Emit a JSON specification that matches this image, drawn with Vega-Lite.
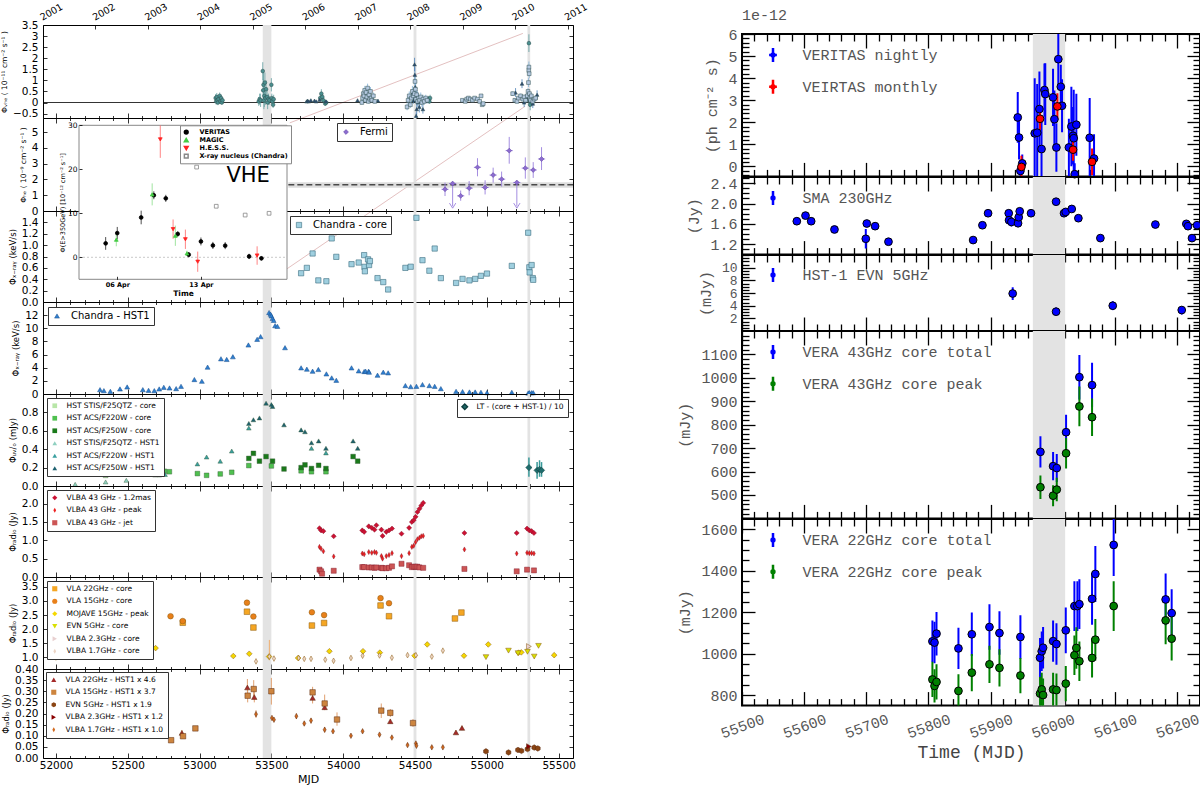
{
"$schema":"https://vega.github.io/schema/vega-lite/v6.json",
"background":"white",
"padding":{"left":0,"top":0,"right":0,"bottom":0},
"config":{
 "view":{"stroke":"black","strokeWidth":1},
 "font":"DejaVu Sans",
 "point":{"opacity":1},
 "axis":{"grid":false,"domain":false,"tickColor":"black","tickWidth":0.8,"labelColor":"black","titleColor":"black","labelFont":"DejaVu Sans","titleFont":"DejaVu Sans","titleFontWeight":"normal","labelOverlap":false,"labelFlush":false},
 "legend":{"labelFont":"DejaVu Sans","labelColor":"black","labelLimit":400}
},
"datasets":{
 "bandsL":[{"a":53440,"b":53500},{"a":54490,"b":54510},{"a":55283,"b":55302}],
 "bandsR":[{"a":55968,"b":56020}],
 "zl":[{"l":1,"t":53628,"v":-0.92},{"l":1,"t":55251,"v":3.12},{"l":2,"t":53609,"v":-7.51},{"l":2,"t":55267,"v":-0.17}],
 "vhe":[
  {"s":"H.E.S.S.","t":53112,"v":0.2,"lo":0.02,"hi":0.38},{"s":"H.E.S.S.","t":53116,"v":0.05,"lo":-0.1,"hi":0.2},{"s":"H.E.S.S.","t":53120,"v":0.25,"lo":0.07,"hi":0.43},{"s":"H.E.S.S.","t":53124,"v":0.1,"lo":-0.05,"hi":0.25},{"s":"H.E.S.S.","t":53128,"v":0.0,"lo":-0.12,"hi":0.12},{"s":"H.E.S.S.","t":53132,"v":0.15,"lo":0.0,"hi":0.3},{"s":"H.E.S.S.","t":53140,"v":0.3,"lo":0.15,"hi":0.45},{"s":"H.E.S.S.","t":53145,"v":0.05,"lo":-0.07,"hi":0.17},{"s":"H.E.S.S.","t":53150,"v":0.2,"lo":0.05,"hi":0.35},{"s":"H.E.S.S.","t":53155,"v":0.0,"lo":-0.1,"hi":0.1},{"s":"H.E.S.S.","t":53160,"v":0.1,"lo":-0.05,"hi":0.25},
  {"s":"H.E.S.S.","t":53412,"v":0.05,"lo":-0.15,"hi":0.25},{"s":"H.E.S.S.","t":53418,"v":0.15,"lo":-0.1,"hi":0.4},{"s":"H.E.S.S.","t":53425,"v":0.1,"lo":-0.2,"hi":0.4},{"s":"H.E.S.S.","t":53440,"v":1.42,"lo":1.02,"hi":1.82},{"s":"H.E.S.S.","t":53443,"v":0.55,"lo":0.05,"hi":1.05},{"s":"H.E.S.S.","t":53445,"v":0.8,"lo":0.2,"hi":1.4},{"s":"H.E.S.S.","t":53448,"v":0.1,"lo":-0.3,"hi":0.5},{"s":"H.E.S.S.","t":53451,"v":0.3,"lo":-0.2,"hi":0.8},{"s":"H.E.S.S.","t":53455,"v":0.9,"lo":0.45,"hi":1.35},{"s":"H.E.S.S.","t":53459,"v":0.2,"lo":-0.1,"hi":0.5},{"s":"H.E.S.S.","t":53463,"v":0.6,"lo":0.2,"hi":1.0},{"s":"H.E.S.S.","t":53470,"v":0.25,"lo":-0.05,"hi":0.55},{"s":"H.E.S.S.","t":53474,"v":0.0,"lo":-0.3,"hi":0.3},{"s":"H.E.S.S.","t":53480,"v":0.15,"lo":-0.1,"hi":0.4},{"s":"H.E.S.S.","t":53486,"v":0.1,"lo":-0.1,"hi":0.3},{"s":"H.E.S.S.","t":53500,"v":0.8,"lo":0.5,"hi":1.1},{"s":"H.E.S.S.","t":53503,"v":0.2,"lo":0.0,"hi":0.4},{"s":"H.E.S.S.","t":53507,"v":0.05,"lo":-0.1,"hi":0.2},{"s":"H.E.S.S.","t":53512,"v":-0.1,"lo":-0.25,"hi":0.05},{"s":"H.E.S.S.","t":53516,"v":0.15,"lo":-0.05,"hi":0.35},
  {"s":"H.E.S.S.","t":53840,"v":0.2,"lo":0.05,"hi":0.35},{"s":"H.E.S.S.","t":53848,"v":0.4,"lo":0.2,"hi":0.6},{"s":"H.E.S.S.","t":53855,"v":0.25,"lo":0.1,"hi":0.4},{"s":"H.E.S.S.","t":53862,"v":0.1,"lo":0.0,"hi":0.2},{"s":"H.E.S.S.","t":53875,"v":-0.05,"lo":-0.15,"hi":0.05},{"s":"H.E.S.S.","t":53882,"v":0.0,"lo":-0.1,"hi":0.1},
  {"s":"H.E.S.S.","t":54595,"v":0.15,"lo":0.0,"hi":0.3},{"s":"H.E.S.S.","t":54600,"v":0.05,"lo":-0.05,"hi":0.15},{"s":"H.E.S.S.","t":54605,"v":0.2,"lo":0.05,"hi":0.35},
  {"s":"H.E.S.S.","t":55293,"v":2.68,"lo":2.28,"hi":3.08},{"s":"H.E.S.S.","t":55294,"v":0.2,"lo":-0.1,"hi":0.5},{"s":"H.E.S.S.","t":55298,"v":0.1,"lo":-0.2,"hi":0.4},{"s":"H.E.S.S.","t":55302,"v":-0.1,"lo":-0.35,"hi":0.15},
  {"s":"MAGIC","t":53745,"v":0.05,"lo":0.01,"hi":0.09},{"s":"MAGIC","t":53752,"v":0.08,"lo":0.04,"hi":0.12},{"s":"MAGIC","t":53760,"v":0.05,"lo":0.01,"hi":0.09},{"s":"MAGIC","t":53775,"v":0.1,"lo":0.05,"hi":0.15},{"s":"MAGIC","t":53800,"v":0.08,"lo":0.03,"hi":0.13},{"s":"MAGIC","t":53812,"v":0.05,"lo":0.0,"hi":0.1},{"s":"MAGIC","t":53835,"v":0.12,"lo":0.06,"hi":0.18},{"s":"MAGIC","t":53880,"v":0.05,"lo":0.0,"hi":0.1},
  {"s":"MAGIC","t":54100,"v":0.1,"lo":0.05,"hi":0.15},{"s":"MAGIC","t":54242,"v":0.08,"lo":0.03,"hi":0.13},
  {"s":"MAGIC","t":54480,"v":0.4,"lo":0.2,"hi":0.6},{"s":"MAGIC","t":54490,"v":0.1,"lo":-0.05,"hi":0.25},{"s":"MAGIC","t":54497,"v":1.72,"lo":1.42,"hi":2.02},{"s":"MAGIC","t":54499,"v":1.25,"lo":0.9,"hi":1.6},{"s":"MAGIC","t":54502,"v":0.7,"lo":0.4,"hi":1.0},{"s":"MAGIC","t":54505,"v":0.2,"lo":0.0,"hi":0.4},{"s":"MAGIC","t":54508,"v":-0.6,"lo":-0.75,"hi":-0.45},{"s":"MAGIC","t":54512,"v":-0.3,"lo":-0.55,"hi":-0.05},{"s":"MAGIC","t":54516,"v":0.3,"lo":0.1,"hi":0.5},{"s":"MAGIC","t":54520,"v":0.0,"lo":-0.2,"hi":0.2},{"s":"MAGIC","t":54530,"v":-0.2,"lo":-0.45,"hi":0.05},{"s":"MAGIC","t":54545,"v":0.1,"lo":-0.1,"hi":0.3},{"s":"MAGIC","t":54555,"v":-0.3,"lo":-0.5,"hi":-0.1},
  {"s":"MAGIC","t":55200,"v":0.45,"lo":0.25,"hi":0.65},{"s":"MAGIC","t":55245,"v":0.85,"lo":0.65,"hi":1.05},{"s":"MAGIC","t":55260,"v":0.0,"lo":-0.2,"hi":0.2},{"s":"MAGIC","t":55280,"v":0.25,"lo":0.1,"hi":0.4},{"s":"MAGIC","t":55296,"v":0.3,"lo":0.1,"hi":0.5},{"s":"MAGIC","t":55300,"v":0.1,"lo":-0.05,"hi":0.25},{"s":"MAGIC","t":55320,"v":-0.05,"lo":-0.25,"hi":0.15},{"s":"MAGIC","t":55350,"v":0.35,"lo":0.15,"hi":0.55},
  {"s":"VERITAS","t":54130,"v":0.0,"lo":-0.1,"hi":0.1},{"s":"VERITAS","t":54135,"v":0.2,"lo":0.05,"hi":0.35},{"s":"VERITAS","t":54140,"v":0.4,"lo":0.2,"hi":0.6},{"s":"VERITAS","t":54145,"v":0.3,"lo":0.15,"hi":0.45},{"s":"VERITAS","t":54150,"v":0.55,"lo":0.35,"hi":0.75},{"s":"VERITAS","t":54155,"v":0.1,"lo":0.0,"hi":0.2},{"s":"VERITAS","t":54160,"v":0.45,"lo":0.25,"hi":0.65},{"s":"VERITAS","t":54165,"v":0.25,"lo":0.1,"hi":0.4},{"s":"VERITAS","t":54170,"v":0.65,"lo":0.45,"hi":0.85},{"s":"VERITAS","t":54175,"v":0.05,"lo":-0.05,"hi":0.15},{"s":"VERITAS","t":54180,"v":0.35,"lo":0.2,"hi":0.5},{"s":"VERITAS","t":54185,"v":0.15,"lo":0.05,"hi":0.25},{"s":"VERITAS","t":54190,"v":0.5,"lo":0.3,"hi":0.7},{"s":"VERITAS","t":54195,"v":0.2,"lo":0.1,"hi":0.3},{"s":"VERITAS","t":54200,"v":0.1,"lo":0.0,"hi":0.2},{"s":"VERITAS","t":54210,"v":0.3,"lo":0.15,"hi":0.45},{"s":"VERITAS","t":54220,"v":0.05,"lo":-0.05,"hi":0.15},
  {"s":"VERITAS","t":54445,"v":-0.2,"lo":-0.35,"hi":-0.05},{"s":"VERITAS","t":54452,"v":0.1,"lo":-0.1,"hi":0.3},{"s":"VERITAS","t":54460,"v":0.3,"lo":0.1,"hi":0.5},{"s":"VERITAS","t":54468,"v":-0.1,"lo":-0.25,"hi":0.05},{"s":"VERITAS","t":54475,"v":0.2,"lo":0.0,"hi":0.4},{"s":"VERITAS","t":54482,"v":0.5,"lo":0.25,"hi":0.75},{"s":"VERITAS","t":54488,"v":0.3,"lo":0.1,"hi":0.5},{"s":"VERITAS","t":54495,"v":0.4,"lo":0.15,"hi":0.65},{"s":"VERITAS","t":54500,"v":0.95,"lo":0.65,"hi":1.25},{"s":"VERITAS","t":54503,"v":0.6,"lo":0.3,"hi":0.9},{"s":"VERITAS","t":54506,"v":0.15,"lo":-0.05,"hi":0.35},{"s":"VERITAS","t":54512,"v":0.35,"lo":0.15,"hi":0.55},{"s":"VERITAS","t":54518,"v":0.05,"lo":-0.15,"hi":0.25},{"s":"VERITAS","t":54525,"v":0.2,"lo":0.0,"hi":0.4},{"s":"VERITAS","t":54532,"v":0.1,"lo":-0.1,"hi":0.3},{"s":"VERITAS","t":54540,"v":0.25,"lo":0.05,"hi":0.45},{"s":"VERITAS","t":54548,"v":0.0,"lo":-0.2,"hi":0.2},{"s":"VERITAS","t":54556,"v":0.15,"lo":-0.05,"hi":0.35},{"s":"VERITAS","t":54565,"v":0.05,"lo":-0.1,"hi":0.2},{"s":"VERITAS","t":54575,"v":0.2,"lo":0.05,"hi":0.35},{"s":"VERITAS","t":54585,"v":0.1,"lo":-0.05,"hi":0.25},
  {"s":"VERITAS","t":54830,"v":0.1,"lo":0.05,"hi":0.15},{"s":"VERITAS","t":54850,"v":0.05,"lo":0.0,"hi":0.1},{"s":"VERITAS","t":54860,"v":0.15,"lo":0.1,"hi":0.2},{"s":"VERITAS","t":54872,"v":0.2,"lo":0.14,"hi":0.26},{"s":"VERITAS","t":54885,"v":0.15,"lo":0.1,"hi":0.2},{"s":"VERITAS","t":54900,"v":0.1,"lo":0.05,"hi":0.15},{"s":"VERITAS","t":54915,"v":0.2,"lo":0.14,"hi":0.26},{"s":"VERITAS","t":54935,"v":0.15,"lo":0.1,"hi":0.2},{"s":"VERITAS","t":54950,"v":0.05,"lo":0.0,"hi":0.1},{"s":"VERITAS","t":54960,"v":0.3,"lo":0.22,"hi":0.38},{"s":"VERITAS","t":54968,"v":-0.1,"lo":-0.16,"hi":-0.04},{"s":"VERITAS","t":54975,"v":-0.05,"lo":-0.1,"hi":0.0},
  {"s":"VERITAS","t":55180,"v":0.4,"lo":0.3,"hi":0.5},{"s":"VERITAS","t":55195,"v":0.1,"lo":0.0,"hi":0.2},{"s":"VERITAS","t":55210,"v":0.05,"lo":-0.05,"hi":0.15},{"s":"VERITAS","t":55220,"v":0.2,"lo":0.1,"hi":0.3},{"s":"VERITAS","t":55235,"v":0.3,"lo":0.2,"hi":0.4},{"s":"VERITAS","t":55250,"v":0.15,"lo":0.05,"hi":0.25},{"s":"VERITAS","t":55260,"v":0.25,"lo":0.15,"hi":0.35},{"s":"VERITAS","t":55270,"v":0.1,"lo":0.0,"hi":0.2},{"s":"VERITAS","t":55282,"v":0.3,"lo":0.2,"hi":0.4},{"s":"VERITAS","t":55287,"v":0.5,"lo":0.35,"hi":0.65},{"s":"VERITAS","t":55290,"v":0.9,"lo":0.7,"hi":1.1},{"s":"VERITAS","t":55292,"v":1.45,"lo":1.2,"hi":1.7},{"s":"VERITAS","t":55293,"v":1.6,"lo":1.35,"hi":1.85},{"s":"VERITAS","t":55295,"v":1.3,"lo":1.1,"hi":1.5},{"s":"VERITAS","t":55297,"v":0.4,"lo":0.25,"hi":0.55},{"s":"VERITAS","t":55300,"v":0.2,"lo":0.1,"hi":0.3},{"s":"VERITAS","t":55305,"v":0.1,"lo":0.0,"hi":0.2},{"s":"VERITAS","t":55310,"v":0.3,"lo":0.2,"hi":0.4},{"s":"VERITAS","t":55320,"v":0.05,"lo":-0.05,"hi":0.15},{"s":"VERITAS","t":55330,"v":0.15,"lo":0.05,"hi":0.25},{"s":"VERITAS","t":55340,"v":0.2,"lo":0.1,"hi":0.3}
 ],
 "fermi":[
  {"s":"Fermi","t":54709,"v":1.38,"lo":0.95,"hi":1.8,"t0":54684,"t1":54734},
  {"s":"Fermi","t":54762,"v":1.74,"lo":0.3,"hi":1.74,"t0":54737,"t1":54787,"ul":true},
  {"s":"Fermi","t":54818,"v":0.96,"lo":0.65,"hi":1.3,"t0":54793,"t1":54843},
  {"s":"Fermi","t":54877,"v":1.45,"lo":1.0,"hi":1.9,"t0":54852,"t1":54902},
  {"s":"Fermi","t":54935,"v":2.77,"lo":2.2,"hi":3.35,"t0":54910,"t1":54960},
  {"s":"Fermi","t":54988,"v":1.49,"lo":1.05,"hi":1.95,"t0":54963,"t1":55013},
  {"s":"Fermi","t":55044,"v":2.28,"lo":1.8,"hi":2.75,"t0":55019,"t1":55069},
  {"s":"Fermi","t":55103,"v":2.02,"lo":1.55,"hi":2.5,"t0":55078,"t1":55128},
  {"s":"Fermi","t":55156,"v":3.83,"lo":3.0,"hi":4.7,"t0":55131,"t1":55181},
  {"s":"Fermi","t":55209,"v":1.81,"lo":0.3,"hi":1.81,"t0":55184,"t1":55234,"ul":true},
  {"s":"Fermi","t":55268,"v":2.72,"lo":2.05,"hi":3.4,"t0":55243,"t1":55293},
  {"s":"Fermi","t":55323,"v":2.6,"lo":2.1,"hi":3.1,"t0":55298,"t1":55348},
  {"s":"Fermi","t":55381,"v":3.3,"lo":2.6,"hi":4.05,"t0":55356,"t1":55406}
 ],
 "favg":[{"a":53618,"b":55600,"lo":1.47,"hi":1.83,"m":1.66}],
 "ccore":[
  {"s":"Chandra - core","t":53707,"v":0.506},{"s":"Chandra - core","t":53747,"v":0.6},{"s":"Chandra - core","t":53787,"v":0.853},{"s":"Chandra - core","t":53827,"v":0.38},{"s":"Chandra - core","t":53883,"v":0.365},{"s":"Chandra - core","t":53920,"v":1.118},{"s":"Chandra - core","t":53952,"v":0.794},{"s":"Chandra - core","t":54058,"v":0.665},{"s":"Chandra - core","t":54108,"v":0.694},{"s":"Chandra - core","t":54146,"v":0.824},{"s":"Chandra - core","t":54148,"v":0.618},{"s":"Chandra - core","t":54151,"v":0.54},{"s":"Chandra - core","t":54173,"v":0.75},{"s":"Chandra - core","t":54180,"v":0.65},{"s":"Chandra - core","t":54186,"v":0.72},{"s":"Chandra - core","t":54239,"v":0.42},{"s":"Chandra - core","t":54279,"v":0.35},{"s":"Chandra - core","t":54313,"v":0.22},{"s":"Chandra - core","t":54433,"v":0.6},{"s":"Chandra - core","t":54470,"v":0.62},{"s":"Chandra - core","t":54510,"v":1.48},{"s":"Chandra - core","t":54552,"v":0.735},{"s":"Chandra - core","t":54600,"v":0.55},{"s":"Chandra - core","t":54637,"v":0.94},{"s":"Chandra - core","t":54680,"v":0.42},{"s":"Chandra - core","t":54786,"v":0.335},{"s":"Chandra - core","t":54831,"v":0.406},{"s":"Chandra - core","t":54879,"v":0.38},{"s":"Chandra - core","t":54919,"v":0.406},{"s":"Chandra - core","t":54959,"v":0.46},{"s":"Chandra - core","t":55001,"v":0.5},{"s":"Chandra - core","t":55174,"v":0.635},{"s":"Chandra - core","t":55288,"v":1.218},{"s":"Chandra - core","t":55296,"v":0.61},{"s":"Chandra - core","t":55298,"v":0.52},{"s":"Chandra - core","t":55312,"v":0.65},{"s":"Chandra - core","t":55320,"v":0.42},{"s":"Chandra - core","t":55323,"v":0.39}
 ],
 "chst":[
  {"s":"Chandra - HST1","t":52307,"v":0.66},{"s":"Chandra - HST1","t":52334,"v":0.51},{"s":"Chandra - HST1","t":52379,"v":0.41},{"s":"Chandra - HST1","t":52446,"v":0.77},{"s":"Chandra - HST1","t":52496,"v":1.07},{"s":"Chandra - HST1","t":52605,"v":0.66},{"s":"Chandra - HST1","t":52645,"v":0.56},{"s":"Chandra - HST1","t":52685,"v":0.51},{"s":"Chandra - HST1","t":52719,"v":0.77},{"s":"Chandra - HST1","t":52751,"v":1.02},{"s":"Chandra - HST1","t":52791,"v":0.92},{"s":"Chandra - HST1","t":52837,"v":0.82},{"s":"Chandra - HST1","t":52871,"v":1.17},{"s":"Chandra - HST1","t":52964,"v":2.2},{"s":"Chandra - HST1","t":53016,"v":1.94},{"s":"Chandra - HST1","t":53056,"v":4.09},{"s":"Chandra - HST1","t":53149,"v":5.36},{"s":"Chandra - HST1","t":53189,"v":5.26},{"s":"Chandra - HST1","t":53232,"v":5.67},{"s":"Chandra - HST1","t":53340,"v":7.46},{"s":"Chandra - HST1","t":53401,"v":8.32},{"s":"Chandra - HST1","t":53425,"v":8.73},{"s":"Chandra - HST1","t":53484,"v":12.4},{"s":"Chandra - HST1","t":53494,"v":12.15},{"s":"Chandra - HST1","t":53500,"v":11.9},{"s":"Chandra - HST1","t":53508,"v":11.5},{"s":"Chandra - HST1","t":53516,"v":11.2},{"s":"Chandra - HST1","t":53526,"v":10.4},{"s":"Chandra - HST1","t":53542,"v":10.3},{"s":"Chandra - HST1","t":53595,"v":7.05},{"s":"Chandra - HST1","t":53707,"v":3.98},{"s":"Chandra - HST1","t":53747,"v":3.78},{"s":"Chandra - HST1","t":53787,"v":3.47},{"s":"Chandra - HST1","t":53827,"v":3.73},{"s":"Chandra - HST1","t":53883,"v":3.06},{"s":"Chandra - HST1","t":53920,"v":2.45},{"s":"Chandra - HST1","t":53952,"v":2.09},{"s":"Chandra - HST1","t":54058,"v":3.98},{"s":"Chandra - HST1","t":54108,"v":3.52},{"s":"Chandra - HST1","t":54146,"v":3.42},{"s":"Chandra - HST1","t":54156,"v":3.47},{"s":"Chandra - HST1","t":54177,"v":3.47},{"s":"Chandra - HST1","t":54180,"v":3.32},{"s":"Chandra - HST1","t":54239,"v":2.86},{"s":"Chandra - HST1","t":54279,"v":3.32},{"s":"Chandra - HST1","t":54313,"v":3.22},{"s":"Chandra - HST1","t":54433,"v":1.28},{"s":"Chandra - HST1","t":54470,"v":1.12},{"s":"Chandra - HST1","t":54510,"v":1.17},{"s":"Chandra - HST1","t":54552,"v":1.43},{"s":"Chandra - HST1","t":54600,"v":1.28},{"s":"Chandra - HST1","t":54637,"v":1.17},{"s":"Chandra - HST1","t":54680,"v":0.82},{"s":"Chandra - HST1","t":54786,"v":0.41},{"s":"Chandra - HST1","t":54831,"v":0.36},{"s":"Chandra - HST1","t":54879,"v":0.31},{"s":"Chandra - HST1","t":54919,"v":0.31},{"s":"Chandra - HST1","t":54959,"v":0.26},{"s":"Chandra - HST1","t":55001,"v":0.2},{"s":"Chandra - HST1","t":55174,"v":0.26},{"s":"Chandra - HST1","t":55288,"v":0.15},{"s":"Chandra - HST1","t":55296,"v":0.2},{"s":"Chandra - HST1","t":55312,"v":0.2},{"s":"Chandra - HST1","t":55323,"v":0.2}
 ],
 "uvo":[
  {"s":"HST STIS/F25QTZ - core","t":52134,"v":0.171},{"s":"HST STIS/F25QTZ - core","t":52346,"v":0.116},{"s":"HST STIS/F25QTZ - core","t":52490,"v":0.145},
  {"s":"HST STIS/F25QTZ - HST1","t":52134,"v":0.018},{"s":"HST STIS/F25QTZ - HST1","t":52346,"v":0.044},{"s":"HST STIS/F25QTZ - HST1","t":52490,"v":0.062},
  {"s":"HST ACS/F220W - core","t":52631,"v":0.145},{"s":"HST ACS/F220W - core","t":52660,"v":0.15},{"s":"HST ACS/F220W - core","t":52690,"v":0.15},{"s":"HST ACS/F220W - core","t":52720,"v":0.155},{"s":"HST ACS/F220W - core","t":52755,"v":0.16},{"s":"HST ACS/F220W - core","t":52790,"v":0.155},{"s":"HST ACS/F220W - core","t":52985,"v":0.135},{"s":"HST ACS/F220W - core","t":53049,"v":0.116},{"s":"HST ACS/F220W - core","t":53144,"v":0.131},{"s":"HST ACS/F220W - core","t":53224,"v":0.149},{"s":"HST ACS/F220W - core","t":53343,"v":0.222},{"s":"HST ACS/F220W - core","t":53500,"v":0.218},{"s":"HST ACS/F220W - core","t":53707,"v":0.165},{"s":"HST ACS/F220W - core","t":53779,"v":0.155},{"s":"HST ACS/F220W - core","t":53880,"v":0.155},
  {"s":"HST ACS/F250W - core","t":53343,"v":0.3},{"s":"HST ACS/F250W - core","t":53375,"v":0.355},{"s":"HST ACS/F250W - core","t":53417,"v":0.27},{"s":"HST ACS/F250W - core","t":53463,"v":0.32},{"s":"HST ACS/F250W - core","t":53508,"v":0.27},{"s":"HST ACS/F250W - core","t":53588,"v":0.185},{"s":"HST ACS/F250W - core","t":53707,"v":0.2},{"s":"HST ACS/F250W - core","t":53734,"v":0.23},{"s":"HST ACS/F250W - core","t":53779,"v":0.19},{"s":"HST ACS/F250W - core","t":53829,"v":0.225},{"s":"HST ACS/F250W - core","t":53880,"v":0.19},{"s":"HST ACS/F250W - core","t":54069,"v":0.32},{"s":"HST ACS/F250W - core","t":54101,"v":0.27},
  {"s":"HST ACS/F220W - HST1","t":52631,"v":0.14},{"s":"HST ACS/F220W - HST1","t":52690,"v":0.12},{"s":"HST ACS/F220W - HST1","t":52720,"v":0.12},{"s":"HST ACS/F220W - HST1","t":52760,"v":0.125},{"s":"HST ACS/F220W - HST1","t":52985,"v":0.24},{"s":"HST ACS/F220W - HST1","t":53049,"v":0.315},{"s":"HST ACS/F220W - HST1","t":53144,"v":0.27},{"s":"HST ACS/F220W - HST1","t":53224,"v":0.38},{"s":"HST ACS/F220W - HST1","t":53343,"v":0.63},{"s":"HST ACS/F220W - HST1","t":53779,"v":0.41},{"s":"HST ACS/F220W - HST1","t":53880,"v":0.36},
  {"s":"HST ACS/F250W - HST1","t":53343,"v":0.68},{"s":"HST ACS/F250W - HST1","t":53375,"v":0.72},{"s":"HST ACS/F250W - HST1","t":53417,"v":0.74},{"s":"HST ACS/F250W - HST1","t":53463,"v":0.9},{"s":"HST ACS/F250W - HST1","t":53500,"v":0.885},{"s":"HST ACS/F250W - HST1","t":53508,"v":0.865},{"s":"HST ACS/F250W - HST1","t":53588,"v":0.665},{"s":"HST ACS/F250W - HST1","t":53707,"v":0.61},{"s":"HST ACS/F250W - HST1","t":53734,"v":0.59},{"s":"HST ACS/F250W - HST1","t":53779,"v":0.47},{"s":"HST ACS/F250W - HST1","t":53829,"v":0.49},{"s":"HST ACS/F250W - HST1","t":53880,"v":0.41},{"s":"HST ACS/F250W - HST1","t":54069,"v":0.49},{"s":"HST ACS/F250W - HST1","t":54101,"v":0.41}
 ],
 "lt":[
  {"s":"LT - (core + HST-1) / 10","t":55293,"v":0.2,"lo":0.1,"hi":0.31,"t0":55285,"t1":55301},
  {"s":"LT - (core + HST-1) / 10","t":55350,"v":0.17,"lo":0.08,"hi":0.26,"t0":55342,"t1":55358},
  {"s":"LT - (core + HST-1) / 10","t":55367,"v":0.18,"lo":0.1,"hi":0.28,"t0":55359,"t1":55375},
  {"s":"LT - (core + HST-1) / 10","t":55381,"v":0.17,"lo":0.1,"hi":0.26,"t0":55373,"t1":55389}
 ],
 "v43l":[
  {"s":"VLBA 43 GHz - 1.2mas","t":53835,"v":1.33},{"s":"VLBA 43 GHz - 1.2mas","t":53846,"v":1.27},{"s":"VLBA 43 GHz - 1.2mas","t":53862,"v":1.25},{"s":"VLBA 43 GHz - 1.2mas","t":53934,"v":1.11},{"s":"VLBA 43 GHz - 1.2mas","t":54133,"v":1.27},{"s":"VLBA 43 GHz - 1.2mas","t":54146,"v":1.23},{"s":"VLBA 43 GHz - 1.2mas","t":54178,"v":1.38},{"s":"VLBA 43 GHz - 1.2mas","t":54199,"v":1.34},{"s":"VLBA 43 GHz - 1.2mas","t":54218,"v":1.29},{"s":"VLBA 43 GHz - 1.2mas","t":54231,"v":1.41},{"s":"VLBA 43 GHz - 1.2mas","t":54266,"v":1.29},{"s":"VLBA 43 GHz - 1.2mas","t":54274,"v":1.12},{"s":"VLBA 43 GHz - 1.2mas","t":54300,"v":1.23},{"s":"VLBA 43 GHz - 1.2mas","t":54319,"v":1.27},{"s":"VLBA 43 GHz - 1.2mas","t":54340,"v":1.32},{"s":"VLBA 43 GHz - 1.2mas","t":54406,"v":1.18},{"s":"VLBA 43 GHz - 1.2mas","t":54459,"v":1.34},{"s":"VLBA 43 GHz - 1.2mas","t":54478,"v":1.5},{"s":"VLBA 43 GHz - 1.2mas","t":54491,"v":1.55},{"s":"VLBA 43 GHz - 1.2mas","t":54504,"v":1.64},{"s":"VLBA 43 GHz - 1.2mas","t":54517,"v":1.77},{"s":"VLBA 43 GHz - 1.2mas","t":54531,"v":1.86},{"s":"VLBA 43 GHz - 1.2mas","t":54544,"v":1.95},{"s":"VLBA 43 GHz - 1.2mas","t":54557,"v":2.02},{"s":"VLBA 43 GHz - 1.2mas","t":54844,"v":1.2},{"s":"VLBA 43 GHz - 1.2mas","t":55208,"v":1.2},{"s":"VLBA 43 GHz - 1.2mas","t":55280,"v":1.32},{"s":"VLBA 43 GHz - 1.2mas","t":55296,"v":1.27},{"s":"VLBA 43 GHz - 1.2mas","t":55312,"v":1.25},{"s":"VLBA 43 GHz - 1.2mas","t":55328,"v":1.2},
  {"s":"VLBA 43 GHz - peak","t":53835,"v":0.82},{"s":"VLBA 43 GHz - peak","t":53846,"v":0.77},{"s":"VLBA 43 GHz - peak","t":53862,"v":0.7},{"s":"VLBA 43 GHz - peak","t":53934,"v":0.56},{"s":"VLBA 43 GHz - peak","t":54133,"v":0.64},{"s":"VLBA 43 GHz - peak","t":54146,"v":0.62},{"s":"VLBA 43 GHz - peak","t":54178,"v":0.68},{"s":"VLBA 43 GHz - peak","t":54199,"v":0.66},{"s":"VLBA 43 GHz - peak","t":54218,"v":0.68},{"s":"VLBA 43 GHz - peak","t":54231,"v":0.66},{"s":"VLBA 43 GHz - peak","t":54266,"v":0.57},{"s":"VLBA 43 GHz - peak","t":54274,"v":0.5},{"s":"VLBA 43 GHz - peak","t":54300,"v":0.57},{"s":"VLBA 43 GHz - peak","t":54319,"v":0.6},{"s":"VLBA 43 GHz - peak","t":54340,"v":0.65},{"s":"VLBA 43 GHz - peak","t":54406,"v":0.57},{"s":"VLBA 43 GHz - peak","t":54459,"v":0.65},{"s":"VLBA 43 GHz - peak","t":54478,"v":0.82},{"s":"VLBA 43 GHz - peak","t":54491,"v":0.85},{"s":"VLBA 43 GHz - peak","t":54504,"v":0.95},{"s":"VLBA 43 GHz - peak","t":54517,"v":1.03},{"s":"VLBA 43 GHz - peak","t":54531,"v":1.07},{"s":"VLBA 43 GHz - peak","t":54544,"v":1.11},{"s":"VLBA 43 GHz - peak","t":54557,"v":1.12},{"s":"VLBA 43 GHz - peak","t":54844,"v":0.75},{"s":"VLBA 43 GHz - peak","t":55208,"v":0.64},{"s":"VLBA 43 GHz - peak","t":55280,"v":0.66},{"s":"VLBA 43 GHz - peak","t":55296,"v":0.65},{"s":"VLBA 43 GHz - peak","t":55312,"v":0.65},{"s":"VLBA 43 GHz - peak","t":55328,"v":0.64},
  {"s":"VLBA 43 GHz - jet","t":53835,"v":0.2},{"s":"VLBA 43 GHz - jet","t":53846,"v":0.155},{"s":"VLBA 43 GHz - jet","t":53853,"v":0.09},{"s":"VLBA 43 GHz - jet","t":53934,"v":0.17},{"s":"VLBA 43 GHz - jet","t":54133,"v":0.27},{"s":"VLBA 43 GHz - jet","t":54146,"v":0.27},{"s":"VLBA 43 GHz - jet","t":54178,"v":0.26},{"s":"VLBA 43 GHz - jet","t":54199,"v":0.26},{"s":"VLBA 43 GHz - jet","t":54218,"v":0.25},{"s":"VLBA 43 GHz - jet","t":54231,"v":0.26},{"s":"VLBA 43 GHz - jet","t":54266,"v":0.25},{"s":"VLBA 43 GHz - jet","t":54274,"v":0.24},{"s":"VLBA 43 GHz - jet","t":54300,"v":0.24},{"s":"VLBA 43 GHz - jet","t":54319,"v":0.25},{"s":"VLBA 43 GHz - jet","t":54340,"v":0.29},{"s":"VLBA 43 GHz - jet","t":54406,"v":0.36},{"s":"VLBA 43 GHz - jet","t":54459,"v":0.32},{"s":"VLBA 43 GHz - jet","t":54478,"v":0.27},{"s":"VLBA 43 GHz - jet","t":54491,"v":0.28},{"s":"VLBA 43 GHz - jet","t":54504,"v":0.28},{"s":"VLBA 43 GHz - jet","t":54517,"v":0.28},{"s":"VLBA 43 GHz - jet","t":54531,"v":0.26},{"s":"VLBA 43 GHz - jet","t":54557,"v":0.25},{"s":"VLBA 43 GHz - jet","t":54844,"v":0.22},{"s":"VLBA 43 GHz - jet","t":55208,"v":0.155},{"s":"VLBA 43 GHz - jet","t":55280,"v":0.2},{"s":"VLBA 43 GHz - jet","t":55328,"v":0.18}
 ],
 "rc":[
  {"s":"VLA 22GHz - core","t":52883,"v":2.23},{"s":"VLA 22GHz - core","t":53330,"v":2.62},{"s":"VLA 22GHz - core","t":53375,"v":2.06},{"s":"VLA 22GHz - core","t":53782,"v":2.13},{"s":"VLA 22GHz - core","t":53867,"v":2.22},{"s":"VLA 22GHz - core","t":54260,"v":2.84},{"s":"VLA 22GHz - core","t":54319,"v":2.46},{"s":"VLA 22GHz - core","t":54778,"v":2.38},{"s":"VLA 22GHz - core","t":54823,"v":2.59},
  {"s":"VLA 15GHz - core","t":52798,"v":2.46},{"s":"VLA 15GHz - core","t":52883,"v":2.29},{"s":"VLA 15GHz - core","t":53330,"v":2.94},{"s":"VLA 15GHz - core","t":53375,"v":2.45},{"s":"VLA 15GHz - core","t":53782,"v":2.6},{"s":"VLA 15GHz - core","t":53867,"v":2.5},{"s":"VLA 15GHz - core","t":54260,"v":3.1},{"s":"VLA 15GHz - core","t":54319,"v":2.92},
  {"s":"MOJAVE 15GHz - peak","t":52000,"v":1.0},{"s":"MOJAVE 15GHz - peak","t":52287,"v":1.13},{"s":"MOJAVE 15GHz - peak","t":52380,"v":1.13},{"s":"MOJAVE 15GHz - peak","t":52694,"v":1.33},{"s":"MOJAVE 15GHz - peak","t":53235,"v":1.05},{"s":"MOJAVE 15GHz - peak","t":53346,"v":1.13},{"s":"MOJAVE 15GHz - peak","t":53484,"v":1.03},{"s":"MOJAVE 15GHz - peak","t":53686,"v":0.98},{"s":"MOJAVE 15GHz - peak","t":53904,"v":1.22},{"s":"MOJAVE 15GHz - peak","t":54138,"v":1.22},{"s":"MOJAVE 15GHz - peak","t":54255,"v":1.17},{"s":"MOJAVE 15GHz - peak","t":54497,"v":1.06},{"s":"MOJAVE 15GHz - peak","t":54585,"v":1.46},{"s":"MOJAVE 15GHz - peak","t":54841,"v":1.06},{"s":"MOJAVE 15GHz - peak","t":55010,"v":1.46},{"s":"MOJAVE 15GHz - peak","t":55221,"v":1.17},{"s":"MOJAVE 15GHz - peak","t":55240,"v":1.18},{"s":"MOJAVE 15GHz - peak","t":55469,"v":1.08},
  {"s":"EVN 5GHz - core","t":54994,"v":1.01},{"s":"EVN 5GHz - core","t":55151,"v":1.24},{"s":"EVN 5GHz - core","t":55217,"v":1.15},{"s":"EVN 5GHz - core","t":55283,"v":1.2},{"s":"EVN 5GHz - core","t":55330,"v":1.03},{"s":"EVN 5GHz - core","t":55360,"v":1.41},
  {"s":"VLBA 2.3GHz - core","t":55293,"v":1.39},
  {"s":"VLBA 1.7GHz - core","t":53393,"v":0.86},{"s":"VLBA 1.7GHz - core","t":53486,"v":1.03,"lo":0.9,"hi":1.62},{"s":"VLBA 1.7GHz - core","t":53518,"v":0.96},{"s":"VLBA 1.7GHz - core","t":53690,"v":0.98},{"s":"VLBA 1.7GHz - core","t":53729,"v":0.95},{"s":"VLBA 1.7GHz - core","t":53776,"v":0.95},{"s":"VLBA 1.7GHz - core","t":53875,"v":0.92},{"s":"VLBA 1.7GHz - core","t":53933,"v":0.88},{"s":"VLBA 1.7GHz - core","t":54054,"v":0.98},{"s":"VLBA 1.7GHz - core","t":54135,"v":1.06},{"s":"VLBA 1.7GHz - core","t":54253,"v":1.07},{"s":"VLBA 1.7GHz - core","t":54339,"v":0.99},{"s":"VLBA 1.7GHz - core","t":54448,"v":1.08},{"s":"VLBA 1.7GHz - core","t":54506,"v":1.08},{"s":"VLBA 1.7GHz - core","t":54617,"v":1.03},{"s":"VLBA 1.7GHz - core","t":54694,"v":1.24}
 ],
 "rh":[
  {"s":"VLA 22GHz - HST1 x 4.6","t":52877,"v":0.113,"lo":0.1,"hi":0.126},{"s":"VLA 22GHz - HST1 x 4.6","t":53333,"v":0.317,"lo":0.28,"hi":0.355},{"s":"VLA 22GHz - HST1 x 4.6","t":53381,"v":0.274,"lo":0.25,"hi":0.3},{"s":"VLA 22GHz - HST1 x 4.6","t":53787,"v":0.27,"lo":0.245,"hi":0.295},{"s":"VLA 22GHz - HST1 x 4.6","t":53871,"v":0.228,"lo":0.215,"hi":0.24},{"s":"VLA 22GHz - HST1 x 4.6","t":54328,"v":0.165,"lo":0.155,"hi":0.175},{"s":"VLA 22GHz - HST1 x 4.6","t":54785,"v":0.115,"lo":0.105,"hi":0.125},{"s":"VLA 22GHz - HST1 x 4.6","t":54827,"v":0.135,"lo":0.125,"hi":0.145},
  {"s":"VLA 15GHz - HST1 x 3.7","t":52802,"v":0.08},{"s":"VLA 15GHz - HST1 x 3.7","t":52885,"v":0.098},{"s":"VLA 15GHz - HST1 x 3.7","t":52971,"v":0.133,"lo":0.123,"hi":0.143},{"s":"VLA 15GHz - HST1 x 3.7","t":53335,"v":0.28,"lo":0.25,"hi":0.31},{"s":"VLA 15GHz - HST1 x 3.7","t":53377,"v":0.31,"lo":0.27,"hi":0.35},{"s":"VLA 15GHz - HST1 x 3.7","t":53500,"v":0.3,"lo":0.24,"hi":0.36},{"s":"VLA 15GHz - HST1 x 3.7","t":53787,"v":0.295,"lo":0.27,"hi":0.32},{"s":"VLA 15GHz - HST1 x 3.7","t":53871,"v":0.245,"lo":0.22,"hi":0.285},{"s":"VLA 15GHz - HST1 x 3.7","t":53957,"v":0.173,"lo":0.145,"hi":0.205},{"s":"VLA 15GHz - HST1 x 3.7","t":54265,"v":0.213,"lo":0.18,"hi":0.245},{"s":"VLA 15GHz - HST1 x 3.7","t":54328,"v":0.203,"lo":0.185,"hi":0.22},{"s":"VLA 15GHz - HST1 x 3.7","t":54486,"v":0.157,"lo":0.14,"hi":0.175},
  {"s":"EVN 5GHz - HST1 x 1.9","t":54994,"v":0.03},{"s":"EVN 5GHz - HST1 x 1.9","t":55151,"v":0.025},{"s":"EVN 5GHz - HST1 x 1.9","t":55217,"v":0.036},{"s":"EVN 5GHz - HST1 x 1.9","t":55241,"v":0.032},{"s":"EVN 5GHz - HST1 x 1.9","t":55283,"v":0.04},{"s":"EVN 5GHz - HST1 x 1.9","t":55330,"v":0.047},{"s":"EVN 5GHz - HST1 x 1.9","t":55355,"v":0.043},
  {"s":"VLBA 2.3GHz - HST1 x 1.2","t":55293,"v":0.052},
  {"s":"VLBA 1.7GHz - HST1 x 1.0","t":53393,"v":0.197,"lo":0.18,"hi":0.215},{"s":"VLBA 1.7GHz - HST1 x 1.0","t":53504,"v":0.18},{"s":"VLBA 1.7GHz - HST1 x 1.0","t":53518,"v":0.172},{"s":"VLBA 1.7GHz - HST1 x 1.0","t":53674,"v":0.188,"lo":0.175,"hi":0.2},{"s":"VLBA 1.7GHz - HST1 x 1.0","t":53729,"v":0.155,"lo":0.145,"hi":0.165},{"s":"VLBA 1.7GHz - HST1 x 1.0","t":53776,"v":0.168,"lo":0.155,"hi":0.18},{"s":"VLBA 1.7GHz - HST1 x 1.0","t":53871,"v":0.127,"lo":0.115,"hi":0.14},{"s":"VLBA 1.7GHz - HST1 x 1.0","t":53929,"v":0.12},{"s":"VLBA 1.7GHz - HST1 x 1.0","t":54054,"v":0.1},{"s":"VLBA 1.7GHz - HST1 x 1.0","t":54135,"v":0.12},{"s":"VLBA 1.7GHz - HST1 x 1.0","t":54253,"v":0.105},{"s":"VLBA 1.7GHz - HST1 x 1.0","t":54339,"v":0.092},{"s":"VLBA 1.7GHz - HST1 x 1.0","t":54448,"v":0.058},{"s":"VLBA 1.7GHz - HST1 x 1.0","t":54506,"v":0.065},{"s":"VLBA 1.7GHz - HST1 x 1.0","t":54510,"v":0.055},{"s":"VLBA 1.7GHz - HST1 x 1.0","t":54617,"v":0.048},{"s":"VLBA 1.7GHz - HST1 x 1.0","t":54694,"v":0.048}
 ],
 "ibox":[{"a":55288.8,"b":55306.2,"lo":-5,"hi":30}],
 "inset":[
  {"s":"VERITAS","t":55291.03,"v":3.17,"lo":1.7,"hi":4.6},{"s":"VERITAS","t":55292.0,"v":5.5,"lo":4.1,"hi":6.9},{"s":"VERITAS","t":55294.0,"v":9.05,"lo":7.5,"hi":10.6},{"s":"VERITAS","t":55295.06,"v":14.1,"lo":13.2,"hi":15.0},{"s":"VERITAS","t":55296.06,"v":13.4,"lo":12.6,"hi":14.2},{"s":"VERITAS","t":55297.06,"v":5.3,"lo":4.7,"hi":5.9},{"s":"VERITAS","t":55297.98,"v":0.6,"lo":0.0,"hi":1.2},{"s":"VERITAS","t":55299.0,"v":3.6,"lo":2.7,"hi":4.5},{"s":"VERITAS","t":55300.0,"v":2.7,"lo":1.9,"hi":3.5},{"s":"VERITAS","t":55301.03,"v":2.65,"lo":1.85,"hi":3.45},{"s":"VERITAS","t":55303.03,"v":0.2,"lo":-0.4,"hi":0.8},{"s":"VERITAS","t":55304.06,"v":-0.23,"lo":-0.7,"hi":0.25},
  {"s":"MAGIC","t":55291.92,"v":4.0,"lo":2.5,"hi":5.5},{"s":"MAGIC","t":55294.92,"v":14.3,"lo":11.8,"hi":16.8},{"s":"MAGIC","t":55296.86,"v":4.9,"lo":2.6,"hi":7.2},{"s":"MAGIC","t":55297.83,"v":0.9,"lo":0.3,"hi":1.5},
  {"s":"H.E.S.S.","t":55295.6,"v":26.8,"lo":22.6,"hi":30.0},{"s":"H.E.S.S.","t":55296.67,"v":6.4,"lo":4.2,"hi":8.6},{"s":"H.E.S.S.","t":55297.7,"v":4.1,"lo":1.9,"hi":6.3},{"s":"H.E.S.S.","t":55298.73,"v":-1.0,"lo":-3.3,"hi":1.3},{"s":"H.E.S.S.","t":55303.7,"v":0.4,"lo":-1.7,"hi":2.5},
  {"s":"X-ray nucleus (Chandra)","t":55298.64,"v":20.5},{"s":"X-ray nucleus (Chandra)","t":55300.28,"v":11.6},{"s":"X-ray nucleus (Chandra)","t":55302.7,"v":9.6},{"s":"X-ray nucleus (Chandra)","t":55304.7,"v":10.0}
 ],
 "ver":[
  {"s":"VERITAS nightly","t":55943.7,"v":2.22,"lo":1.07,"hi":3.37},{"s":"VERITAS nightly","t":55945.8,"v":1.31,"lo":0.31,"hi":2.31},{"s":"VERITAS nightly","t":55948.0,"v":-0.2,"lo":-0.7,"hi":0.3},{"s":"VERITAS nightly","t":55951.0,"v":0.14,"lo":-0.26,"hi":0.54},{"s":"VERITAS nightly","t":55971.0,"v":1.5,"lo":-1.0,"hi":4.0},{"s":"VERITAS nightly","t":55975.0,"v":1.53,"lo":-0.67,"hi":3.73},{"s":"VERITAS nightly","t":55978.6,"v":2.6,"lo":0.9,"hi":4.3},{"s":"VERITAS nightly","t":55982.0,"v":0.79,"lo":-0.71,"hi":2.29},{"s":"VERITAS nightly","t":55986.7,"v":3.46,"lo":2.26,"hi":4.66},{"s":"VERITAS nightly","t":55988.0,"v":3.28,"lo":1.88,"hi":4.68},{"s":"VERITAS nightly","t":56000.5,"v":3.13,"lo":1.83,"hi":4.43},{"s":"VERITAS nightly","t":56002.7,"v":2.14,"lo":0.84,"hi":3.44},{"s":"VERITAS nightly","t":56005.9,"v":0.86,"lo":-0.24,"hi":1.96},{"s":"VERITAS nightly","t":56009.0,"v":4.86,"lo":3.66,"hi":6.06},{"s":"VERITAS nightly","t":56013.0,"v":3.61,"lo":2.61,"hi":4.61},{"s":"VERITAS nightly","t":56015.0,"v":2.75,"lo":1.55,"hi":3.95},{"s":"VERITAS nightly","t":56026.0,"v":0.86,"lo":-0.44,"hi":2.16},{"s":"VERITAS nightly","t":56030.0,"v":1.81,"lo":0.01,"hi":3.61},{"s":"VERITAS nightly","t":56032.7,"v":1.39,"lo":0.09,"hi":2.69},{"s":"VERITAS nightly","t":56033.8,"v":1.28,"lo":-0.92,"hi":3.48},{"s":"VERITAS nightly","t":56035.4,"v":-0.35,"lo":-0.85,"hi":0.15},{"s":"VERITAS nightly","t":56038.0,"v":1.89,"lo":0.49,"hi":3.29},{"s":"VERITAS nightly","t":56059.5,"v":1.3,"lo":-0.5,"hi":3.1},{"s":"VERITAS nightly","t":56066.5,"v":0.36,"lo":-0.74,"hi":1.46},
  {"s":"VEIRTAS monthly","t":55949.6,"v":-0.02,"lo":-0.52,"hi":0.48},{"s":"VEIRTAS monthly","t":55979.6,"v":2.16,"lo":1.66,"hi":2.66},{"s":"VEIRTAS monthly","t":56007.5,"v":2.72,"lo":2.12,"hi":3.32},{"s":"VEIRTAS monthly","t":56032.7,"v":0.76,"lo":0.26,"hi":1.26},{"s":"VEIRTAS monthly","t":56063.3,"v":0.21,"lo":-0.39,"hi":0.81}
 ],
 "sma":[
  {"s":"SMA 230GHz","t":55588.2,"v":1.654,"lo":1.62,"hi":1.69},{"s":"SMA 230GHz","t":55602.2,"v":1.764,"lo":1.73,"hi":1.8},{"s":"SMA 230GHz","t":55611.3,"v":1.654,"lo":1.62,"hi":1.69},{"s":"SMA 230GHz","t":55648.8,"v":1.492,"lo":1.46,"hi":1.53},{"s":"SMA 230GHz","t":55699.2,"v":1.31,"lo":1.12,"hi":1.5},{"s":"SMA 230GHz","t":55700.8,"v":1.609,"lo":1.57,"hi":1.65},{"s":"SMA 230GHz","t":55714.2,"v":1.557,"lo":1.52,"hi":1.59},{"s":"SMA 230GHz","t":55735.7,"v":1.252,"lo":1.22,"hi":1.28},{"s":"SMA 230GHz","t":55871.9,"v":1.285,"lo":1.25,"hi":1.32},{"s":"SMA 230GHz","t":55886.9,"v":1.575,"lo":1.54,"hi":1.61},{"s":"SMA 230GHz","t":55896.0,"v":1.81,"lo":1.74,"hi":1.88},{"s":"SMA 230GHz","t":55929.2,"v":1.81,"lo":1.77,"hi":1.85},{"s":"SMA 230GHz","t":55929.7,"v":1.674,"lo":1.64,"hi":1.71},{"s":"SMA 230GHz","t":55933.5,"v":1.64,"lo":1.55,"hi":1.73},{"s":"SMA 230GHz","t":55944.2,"v":1.614,"lo":1.58,"hi":1.65},{"s":"SMA 230GHz","t":55945.3,"v":1.732,"lo":1.7,"hi":1.77},{"s":"SMA 230GHz","t":55946.9,"v":1.849,"lo":1.81,"hi":1.89},{"s":"SMA 230GHz","t":55965.1,"v":1.81,"lo":1.77,"hi":1.85},{"s":"SMA 230GHz","t":56005.4,"v":2.036,"lo":2.0,"hi":2.07},{"s":"SMA 230GHz","t":56018.2,"v":1.81,"lo":1.77,"hi":1.85},{"s":"SMA 230GHz","t":56020.9,"v":1.836,"lo":1.8,"hi":1.87},{"s":"SMA 230GHz","t":56030.6,"v":1.894,"lo":1.86,"hi":1.93},{"s":"SMA 230GHz","t":56041.3,"v":1.713,"lo":1.68,"hi":1.75},{"s":"SMA 230GHz","t":56076.7,"v":1.323,"lo":1.29,"hi":1.36},{"s":"SMA 230GHz","t":56165.2,"v":1.589,"lo":1.56,"hi":1.62},{"s":"SMA 230GHz","t":56215.0,"v":1.602,"lo":1.57,"hi":1.64},{"s":"SMA 230GHz","t":56217.7,"v":1.557,"lo":1.52,"hi":1.59},{"s":"SMA 230GHz","t":56224.1,"v":1.323,"lo":1.29,"hi":1.36},{"s":"SMA 230GHz","t":56232.2,"v":1.576,"lo":1.54,"hi":1.61}
 ],
 "evn":[
  {"s":"HST-1 EVN 5GHz","t":55935.6,"v":5.92,"lo":4.9,"hi":6.9},{"s":"HST-1 EVN 5GHz","t":56005.4,"v":3.05,"lo":2.5,"hi":3.7},{"s":"HST-1 EVN 5GHz","t":56096.6,"v":3.99,"lo":3.3,"hi":4.7},{"s":"HST-1 EVN 5GHz","t":56207.6,"v":3.31,"lo":2.6,"hi":3.9}
 ],
 "v43":[
  {"s":"VERA 43GHz core total","t":55980.2,"v":684,"lo":617,"hi":751},{"s":"VERA 43GHz core total","t":56000.6,"v":623,"lo":563,"hi":683},{"s":"VERA 43GHz core total","t":56006.5,"v":615,"lo":555,"hi":675},{"s":"VERA 43GHz core total","t":56021.5,"v":768,"lo":693,"hi":843},{"s":"VERA 43GHz core total","t":56042.9,"v":1003,"lo":908,"hi":1098},{"s":"VERA 43GHz core total","t":56063.3,"v":969,"lo":874,"hi":1064},
  {"s":"VERA 43GHz core peak","t":55980.2,"v":533,"lo":483,"hi":583},{"s":"VERA 43GHz core peak","t":56000.6,"v":497,"lo":452,"hi":542},{"s":"VERA 43GHz core peak","t":56006.5,"v":523,"lo":473,"hi":573},{"s":"VERA 43GHz core peak","t":56021.5,"v":678,"lo":613,"hi":743},{"s":"VERA 43GHz core peak","t":56042.9,"v":878,"lo":793,"hi":963},{"s":"VERA 43GHz core peak","t":56063.3,"v":832,"lo":752,"hi":912}
 ],
 "v22":[
  {"s":"VERA 22GHz core total","t":55806.4,"v":1060,"lo":960,"hi":1160},{"s":"VERA 22GHz core total","t":55809.8,"v":1054,"lo":954,"hi":1154},{"s":"VERA 22GHz core total","t":55813.0,"v":1097,"lo":992,"hi":1202},{"s":"VERA 22GHz core total","t":55848.3,"v":1026,"lo":926,"hi":1126},{"s":"VERA 22GHz core total","t":55869.8,"v":1094,"lo":989,"hi":1199},{"s":"VERA 22GHz core total","t":55898.2,"v":1129,"lo":1019,"hi":1239},{"s":"VERA 22GHz core total","t":55914.3,"v":1100,"lo":995,"hi":1205},{"s":"VERA 22GHz core total","t":55948.0,"v":1081,"lo":976,"hi":1186},{"s":"VERA 22GHz core total","t":55979.6,"v":981,"lo":886,"hi":1076},{"s":"VERA 22GHz core total","t":55982.3,"v":1012,"lo":917,"hi":1107},{"s":"VERA 22GHz core total","t":55984.5,"v":1029,"lo":929,"hi":1129},{"s":"VERA 22GHz core total","t":56000.6,"v":1061,"lo":961,"hi":1161},{"s":"VERA 22GHz core total","t":56006.0,"v":1047,"lo":947,"hi":1147},{"s":"VERA 22GHz core total","t":56021.0,"v":1113,"lo":1003,"hi":1223},{"s":"VERA 22GHz core total","t":56034.9,"v":1230,"lo":1110,"hi":1350},{"s":"VERA 22GHz core total","t":56039.7,"v":1230,"lo":1110,"hi":1350},{"s":"VERA 22GHz core total","t":56042.9,"v":1239,"lo":1119,"hi":1359},{"s":"VERA 22GHz core total","t":56063.3,"v":1265,"lo":1140,"hi":1390},{"s":"VERA 22GHz core total","t":56068.6,"v":1385,"lo":1250,"hi":1520},{"s":"VERA 22GHz core total","t":56098.1,"v":1525,"lo":1375,"hi":1675},{"s":"VERA 22GHz core total","t":56181.7,"v":1262,"lo":1137,"hi":1387},{"s":"VERA 22GHz core total","t":56191.4,"v":1196,"lo":1081,"hi":1311},
  {"s":"VERA 22GHz core peak","t":55806.4,"v":876,"lo":791,"hi":961},{"s":"VERA 22GHz core peak","t":55809.8,"v":845,"lo":765,"hi":925},{"s":"VERA 22GHz core peak","t":55813.0,"v":864,"lo":779,"hi":949},{"s":"VERA 22GHz core peak","t":55848.3,"v":821,"lo":741,"hi":901},{"s":"VERA 22GHz core peak","t":55869.8,"v":909,"lo":819,"hi":999},{"s":"VERA 22GHz core peak","t":55898.2,"v":949,"lo":859,"hi":1039},{"s":"VERA 22GHz core peak","t":55914.3,"v":932,"lo":842,"hi":1022},{"s":"VERA 22GHz core peak","t":55948.0,"v":895,"lo":810,"hi":980},{"s":"VERA 22GHz core peak","t":55979.6,"v":808,"lo":728,"hi":888},{"s":"VERA 22GHz core peak","t":55982.3,"v":828,"lo":748,"hi":908},{"s":"VERA 22GHz core peak","t":55984.5,"v":801,"lo":721,"hi":881},{"s":"VERA 22GHz core peak","t":56000.6,"v":828,"lo":748,"hi":908},{"s":"VERA 22GHz core peak","t":56006.0,"v":825,"lo":745,"hi":905},{"s":"VERA 22GHz core peak","t":56021.0,"v":856,"lo":771,"hi":941},{"s":"VERA 22GHz core peak","t":56034.9,"v":993,"lo":898,"hi":1088},{"s":"VERA 22GHz core peak","t":56038.0,"v":1028,"lo":928,"hi":1128},{"s":"VERA 22GHz core peak","t":56042.9,"v":964,"lo":869,"hi":1059},{"s":"VERA 22GHz core peak","t":56063.3,"v":980,"lo":885,"hi":1075},{"s":"VERA 22GHz core peak","t":56068.6,"v":1068,"lo":968,"hi":1168},{"s":"VERA 22GHz core peak","t":56098.1,"v":1230,"lo":1110,"hi":1350},{"s":"VERA 22GHz core peak","t":56181.7,"v":1161,"lo":1046,"hi":1276},{"s":"VERA 22GHz core peak","t":56191.4,"v":1073,"lo":968,"hi":1178}
 ]
},
"spacing":87,
"hconcat":[
 {
  "vconcat":[
   {"width":530,"height":93,
    "layer":[
     {"data":{"name":"bandsL"},"mark":{"type":"rect","color":"#e3e3e3"},
      "encoding":{"x":{"field":"a","type":"quantitative","scale":{"domain":[51910,55600],"nice":false},"axis":{"orient":"bottom","title":null,"labels":false,"values":[52000,52100,52200,52300,52400,52500,52600,52700,52800,52900,53000,53100,53200,53300,53400,53500,53600,53700,53800,53900,54000,54100,54200,54300,54400,54500,54600,54700,54800,54900,55000,55100,55200,55300,55400,55500],"tickSize":{"condition":{"test":"datum.value % 500 === 0","value":-5},"value":-2.5}}},"x2":{"field":"b"},
       "y":{"datum":-0.7,"type":"quantitative","scale":{"domain":[-0.7,3.5],"nice":false},"axis":{"orient":"right","title":null,"labels":false,"values":[-0.5,0,0.5,1,1.5,2,2.5,3,3.5],"tickSize":-4}},"y2":{"datum":3.5}}},
     {"data":{"name":"zl"},"mark":{"type":"line","color":"#dcb0b0","strokeWidth":0.8},"encoding":{"x":{"field":"t","type":"quantitative","axis":null},"y":{"field":"v","type":"quantitative","axis":null},"detail":{"field":"l","type":"nominal"}}},
     {"data":{"values":[{}]},"mark":{"type":"rule","color":"black","strokeWidth":0.8},"encoding":{"y":{"datum":0,"type":"quantitative","axis":null}}},
     {"data":{"name":"vhe"},"mark":{"type":"rule","strokeWidth":0.8},
      "encoding":{"x":{"field":"t","type":"quantitative","axis":{"orient":"top","title":null,"values":[51910,52275,52640,53005,53371,53736,54101,54466,54832,55197,55562],"labelExpr":"format(2001 + round((datum.value - 51910)/365.25), 'd')","labelAngle":-30,"labelAlign":"left","labelBaseline":"bottom","labelFontSize":9.5,"labelPadding":7,"tickSize":-4}},
       "y":{"field":"lo","type":"quantitative","axis":{"orient":"left","title":"Φᵥₕₑ ( 10⁻¹¹ cm⁻² s⁻¹ )","values":[-0.5,0,0.5,1,1.5,2,2.5,3,3.5],"format":"~g","tickSize":-4,"labelFontSize":10.5,"labelPadding":9,"titleFontSize":7.5,"titlePadding":4}},"y2":{"field":"hi"},
       "stroke":{"field":"s","type":"nominal","scale":{"domain":["H.E.S.S.","MAGIC","VERITAS"],"range":["#5f9ea0","#4a7fb5","#7fb0d8"]},"legend":null}}},
     {"data":{"name":"vhe"},"mark":{"type":"point","filled":true,"size":14,"stroke":"#2f4f4f","strokeWidth":0.5},
      "encoding":{"x":{"field":"t","type":"quantitative","axis":null},"y":{"field":"v","type":"quantitative","axis":null},
       "fill":{"field":"s","type":"nominal","scale":{"domain":["H.E.S.S.","MAGIC","VERITAS"],"range":["#4a8f8f","#2c4a72","#b4c8e0"]},"legend":{"title":null,"orient":"top-left","offset":4,"padding":4,"strokeColor":"#333","fillColor":"white","labelFontSize":7.5,"symbolSize":22,"rowPadding":3,"labelOffset":7,"symbolStrokeColor":"#2f4f4f","symbolStrokeWidth":0.5}},
       "shape":{"field":"s","type":"nominal","scale":{"domain":["H.E.S.S.","MAGIC","VERITAS"],"range":["circle","triangle-up","square"]},"legend":{"title":null,"orient":"top-left","offset":4,"padding":4,"strokeColor":"#333","fillColor":"white","labelFontSize":7.5,"symbolSize":22,"rowPadding":3,"labelOffset":7,"symbolStrokeColor":"#2f4f4f","symbolStrokeWidth":0.5}}}}
    ],
    "resolve":{"axis":{"x":"independent","y":"independent"}}
   },
   {"width":530,"height":93,
    "layer":[
     {"data":{"name":"bandsL"},"mark":{"type":"rect","color":"#e3e3e3"},
      "encoding":{"x":{"field":"a","type":"quantitative","scale":{"domain":[51910,55600],"nice":false},"axis":{"orient":"bottom","title":null,"labels":false,"values":[52000,52100,52200,52300,52400,52500,52600,52700,52800,52900,53000,53100,53200,53300,53400,53500,53600,53700,53800,53900,54000,54100,54200,54300,54400,54500,54600,54700,54800,54900,55000,55100,55200,55300,55400,55500],"tickSize":{"condition":{"test":"datum.value % 500 === 0","value":-5},"value":-2.5}}},"x2":{"field":"b"},
       "y":{"datum":0,"type":"quantitative","scale":{"domain":[0,5.9],"nice":false},"axis":{"orient":"right","title":null,"labels":false,"values":[0,1,2,3,4,5],"tickSize":-4}},"y2":{"datum":5.9}}},
     {"data":{"name":"favg"},"mark":{"type":"rect","color":"#dcdcdc"},"encoding":{"x":{"field":"a","type":"quantitative","axis":null},"x2":{"field":"b"},"y":{"field":"lo","type":"quantitative","axis":null},"y2":{"field":"hi"}}},
     {"data":{"name":"favg"},"mark":{"type":"rule","color":"black","strokeDash":[6,3],"strokeWidth":1},"encoding":{"x":{"field":"a","type":"quantitative","axis":null},"x2":{"field":"b"},"y":{"field":"m","type":"quantitative","axis":null}}},
     {"data":{"name":"fermi"},"mark":{"type":"rule","color":"#9a80dd","strokeWidth":0.9},"encoding":{"x":{"field":"t","type":"quantitative","axis":null},"y":{"field":"lo","type":"quantitative","axis":null},"y2":{"field":"hi"}}},
     {"data":{"name":"fermi"},"mark":{"type":"rule","color":"#9a80dd","strokeWidth":0.9},"encoding":{"x":{"field":"t0","type":"quantitative","axis":null},"x2":{"field":"t1"},"y":{"field":"v","type":"quantitative","axis":null}}},
     {"data":{"name":"fermi"},"transform":[{"filter":"datum.ul"}],"mark":{"type":"point","shape":"M-1,-1L0,0.6L1,-1","filled":false,"size":40,"color":"#9a80dd","strokeWidth":0.9},"encoding":{"x":{"field":"t","type":"quantitative","axis":null},"y":{"field":"lo","type":"quantitative","axis":null}}},
     {"data":{"name":"fermi"},"mark":{"type":"point","filled":true,"shape":"diamond","size":24,"stroke":"#5a3e9e","strokeWidth":0.5},
      "encoding":{"x":{"field":"t","type":"quantitative","axis":{"orient":"top","title":null,"labels":false,"values":[52000,52100,52200,52300,52400,52500,52600,52700,52800,52900,53000,53100,53200,53300,53400,53500,53600,53700,53800,53900,54000,54100,54200,54300,54400,54500,54600,54700,54800,54900,55000,55100,55200,55300,55400,55500],"tickSize":{"condition":{"test":"datum.value % 500 === 0","value":-5},"value":-2.5}}},
       "y":{"field":"v","type":"quantitative","axis":{"orient":"left","title":"Φₕₑ ( 10⁻⁹ cm⁻² s⁻¹ )","values":[0,1,2,3,4,5],"format":"d","tickSize":-4,"labelFontSize":10.5,"labelPadding":9,"titleFontSize":7.5,"titlePadding":4}},
       "fill":{"field":"s","type":"nominal","scale":{"range":["#8c6ccf"]},"legend":{"title":null,"orient":"none","legendX":294,"legendY":5,"padding":4,"strokeColor":"#333","fillColor":"white","labelFontSize":10,"symbolType":"diamond","symbolSize":24,"labelOffset":9,"symbolStrokeColor":"#5a3e9e","symbolStrokeWidth":0.5}}}}
    ],
    "resolve":{"axis":{"x":"independent","y":"independent"}}
   },
   {"width":530,"height":91,
    "layer":[
     {"data":{"name":"bandsL"},"mark":{"type":"rect","color":"#e3e3e3"},
      "encoding":{"x":{"field":"a","type":"quantitative","scale":{"domain":[51910,55600],"nice":false},"axis":{"orient":"bottom","title":null,"labels":false,"values":[52000,52100,52200,52300,52400,52500,52600,52700,52800,52900,53000,53100,53200,53300,53400,53500,53600,53700,53800,53900,54000,54100,54200,54300,54400,54500,54600,54700,54800,54900,55000,55100,55200,55300,55400,55500],"tickSize":{"condition":{"test":"datum.value % 500 === 0","value":-5},"value":-2.5}}},"x2":{"field":"b"},
       "y":{"datum":0,"type":"quantitative","scale":{"domain":[0,1.6],"nice":false},"axis":{"orient":"right","title":null,"labels":false,"values":[0,0.2,0.4,0.6,0.8,1,1.2,1.4],"tickSize":-4}},"y2":{"datum":1.6}}},
     {"data":{"name":"ccore"},"mark":{"type":"point","filled":true,"shape":"square","size":28,"stroke":"#3b6d80","strokeWidth":0.6},
      "encoding":{"x":{"field":"t","type":"quantitative","scale":{"domain":[51910,55600],"nice":false},"axis":{"orient":"top","title":null,"labels":false,"values":[52000,52100,52200,52300,52400,52500,52600,52700,52800,52900,53000,53100,53200,53300,53400,53500,53600,53700,53800,53900,54000,54100,54200,54300,54400,54500,54600,54700,54800,54900,55000,55100,55200,55300,55400,55500],"tickSize":{"condition":{"test":"datum.value % 500 === 0","value":-5},"value":-2.5}}},
       "y":{"field":"v","type":"quantitative","scale":{"domain":[0,1.6],"nice":false},"axis":{"orient":"left","title":"Φₓ₋ᵣₐᵧ (keV/s)","values":[0,0.2,0.4,0.6,0.8,1,1.2,1.4],"format":".1f","tickSize":-4,"labelFontSize":10.5,"labelPadding":9,"titleFontSize":8.5,"titlePadding":4}},
       "fill":{"field":"s","type":"nominal","scale":{"range":["#9fcfdf"]},"legend":{"title":null,"orient":"none","legendX":247,"legendY":5,"padding":4,"strokeColor":"#333","fillColor":"white","labelFontSize":10,"symbolType":"square","symbolSize":28,"labelOffset":9,"symbolStrokeColor":"#3b6d80","symbolStrokeWidth":0.6}}}},
     {"data":{"name":"ibox"},"mark":{"type":"rect","fill":"white","stroke":"#888888","strokeWidth":1},
      "encoding":{"x":{"field":"a","type":"quantitative","scale":{"domain":[55288.8,55306.2],"range":[36,244],"nice":false},"axis":{"orient":"bottom","offset":-22.7,"values":[55292,55299],"labelExpr":"datum.value < 55295 ? '06 Apr' : '13 Apr'","title":"Time","titleFontWeight":"bold","titleFontSize":7.5,"titlePadding":2,"labelFontWeight":"bold","labelFontSize":6.5,"labelPadding":5,"tickSize":-3,"zindex":1}},"x2":{"field":"b"},
       "y":{"field":"lo","type":"quantitative","scale":{"domain":[-5,30],"range":[68.3,-85.7],"nice":false},"axis":{"orient":"left","offset":-36,"values":[0,10,20,30],"title":"Φ(E>350GeV) [10⁻¹² cm⁻² s⁻¹]","titleFontSize":6.5,"titlePadding":2,"labelFontSize":7.5,"labelPadding":5,"tickSize":-3,"zindex":1}},"y2":{"field":"hi"}}},
     {"data":{"name":"ibox"},"mark":{"type":"rule","color":"#bbbbbb","strokeDash":[2,2],"strokeWidth":0.8},
      "encoding":{"x":{"field":"a","type":"quantitative","scale":{"domain":[55288.8,55306.2],"range":[36,244],"nice":false},"axis":null},"x2":{"field":"b"},"y":{"datum":0,"type":"quantitative","scale":{"domain":[-5,30],"range":[68.3,-85.7],"nice":false},"axis":null}}},
     {"data":{"name":"inset"},"transform":[{"filter":"isValid(datum.lo)"}],"mark":{"type":"rule","strokeWidth":0.8},
      "encoding":{"x":{"field":"t","type":"quantitative","scale":{"domain":[55288.8,55306.2],"range":[36,244],"nice":false},"axis":null},"y":{"field":"lo","type":"quantitative","scale":{"domain":[-5,30],"range":[68.3,-85.7],"nice":false},"axis":null},"y2":{"field":"hi"},
       "stroke":{"field":"s","type":"nominal","scale":{"domain":["VERITAS","MAGIC","H.E.S.S.","X-ray nucleus (Chandra)"],"range":["#222222","#88dd88","#ff6666","#999999"]},"legend":null}}},
     {"data":{"name":"inset"},"mark":{"type":"point","size":14,"strokeWidth":0.8,"opacity":1},
      "encoding":{"x":{"field":"t","type":"quantitative","scale":{"domain":[55288.8,55306.2],"range":[36,244],"nice":false},"axis":null},"y":{"field":"v","type":"quantitative","scale":{"domain":[-5,30],"range":[68.3,-85.7],"nice":false},"axis":null},
       "fill":{"field":"s","type":"nominal","scale":{"domain":["VERITAS","MAGIC","H.E.S.S.","X-ray nucleus (Chandra)"],"range":["black","#44cc44","#ff2222","white"]},"legend":{"title":null,"orient":"none","legendX":137,"legendY":-85.7,"padding":3,"strokeColor":"#888","fillColor":"white","labelFontSize":6.5,"labelFontWeight":"bold","symbolSize":14,"rowPadding":0,"clipHeight":7.5,"labelOffset":10}},
       "shape":{"field":"s","type":"nominal","scale":{"domain":["VERITAS","MAGIC","H.E.S.S.","X-ray nucleus (Chandra)"],"range":["circle","triangle-up","triangle-down","square"]},"legend":{"title":null,"orient":"none","legendX":137,"legendY":-85.7,"padding":3,"strokeColor":"#888","fillColor":"white","labelFontSize":6.5,"labelFontWeight":"bold","symbolSize":14,"rowPadding":0,"clipHeight":7.5,"labelOffset":10}},
       "stroke":{"field":"s","type":"nominal","scale":{"domain":["VERITAS","MAGIC","H.E.S.S.","X-ray nucleus (Chandra)"],"range":["black","#44cc44","#ff2222","#888888"]},"legend":{"title":null,"orient":"none","legendX":137,"legendY":-85.7,"padding":3,"strokeColor":"#888","fillColor":"white","labelFontSize":6.5,"labelFontWeight":"bold","symbolSize":14,"rowPadding":0,"clipHeight":7.5,"labelOffset":10}}}},
     {"data":{"values":[{}]},"mark":{"type":"text","text":"VHE","fontSize":21,"color":"black","align":"center","baseline":"middle"},
      "encoding":{"x":{"datum":55302.95,"type":"quantitative","scale":{"domain":[55288.8,55306.2],"range":[36,244],"nice":false},"axis":null},"y":{"datum":18.4,"type":"quantitative","scale":{"domain":[-5,30],"range":[68.3,-85.7],"nice":false},"axis":null}}}
    ],
    "resolve":{"scale":{"x":"independent","y":"independent","fill":"independent","shape":"independent","stroke":"independent"},"axis":{"x":"independent","y":"independent"}}
   },
   {"width":530,"height":92,
    "layer":[
     {"data":{"name":"bandsL"},"mark":{"type":"rect","color":"#e3e3e3"},
      "encoding":{"x":{"field":"a","type":"quantitative","scale":{"domain":[51910,55600],"nice":false},"axis":{"orient":"bottom","title":null,"labels":false,"values":[52000,52100,52200,52300,52400,52500,52600,52700,52800,52900,53000,53100,53200,53300,53400,53500,53600,53700,53800,53900,54000,54100,54200,54300,54400,54500,54600,54700,54800,54900,55000,55100,55200,55300,55400,55500],"tickSize":{"condition":{"test":"datum.value % 500 === 0","value":-5},"value":-2.5}}},"x2":{"field":"b"},
       "y":{"datum":0,"type":"quantitative","scale":{"domain":[0,14],"nice":false},"axis":{"orient":"right","title":null,"labels":false,"values":[0,2,4,6,8,10,12],"tickSize":-4}},"y2":{"datum":14}}},
     {"data":{"name":"chst"},"mark":{"type":"point","filled":true,"shape":"triangle-up","size":24,"stroke":"#1a4f8a","strokeWidth":0.5},
      "encoding":{"x":{"field":"t","type":"quantitative","axis":{"orient":"top","title":null,"labels":false,"values":[52000,52100,52200,52300,52400,52500,52600,52700,52800,52900,53000,53100,53200,53300,53400,53500,53600,53700,53800,53900,54000,54100,54200,54300,54400,54500,54600,54700,54800,54900,55000,55100,55200,55300,55400,55500],"tickSize":{"condition":{"test":"datum.value % 500 === 0","value":-5},"value":-2.5}}},
       "y":{"field":"v","type":"quantitative","axis":{"orient":"left","title":"Φₓ₋ᵣₐᵧ (keV/s)","values":[0,2,4,6,8,10,12],"format":"d","tickSize":-4,"labelFontSize":10.5,"labelPadding":9,"titleFontSize":8.5,"titlePadding":4}},
       "fill":{"field":"s","type":"nominal","scale":{"range":["#2f7fd0"]},"legend":{"title":null,"orient":"top-left","offset":5,"padding":4,"strokeColor":"#333","fillColor":"white","labelFontSize":10,"symbolType":"triangle-up","symbolSize":24,"labelOffset":9,"symbolStrokeColor":"#1a4f8a","symbolStrokeWidth":0.5}}}}
    ],
    "resolve":{"axis":{"x":"independent","y":"independent"}}
   },
   {"width":530,"height":92,
    "layer":[
     {"data":{"name":"bandsL"},"mark":{"type":"rect","color":"#e3e3e3"},
      "encoding":{"x":{"field":"a","type":"quantitative","scale":{"domain":[51910,55600],"nice":false},"axis":{"orient":"bottom","title":null,"labels":false,"values":[52000,52100,52200,52300,52400,52500,52600,52700,52800,52900,53000,53100,53200,53300,53400,53500,53600,53700,53800,53900,54000,54100,54200,54300,54400,54500,54600,54700,54800,54900,55000,55100,55200,55300,55400,55500],"tickSize":{"condition":{"test":"datum.value % 500 === 0","value":-5},"value":-2.5}}},"x2":{"field":"b"},
       "y":{"datum":0,"type":"quantitative","scale":{"domain":[0,1.0],"nice":false},"axis":{"orient":"right","title":null,"labels":false,"values":[0,0.2,0.4,0.6,0.8],"tickSize":-4}},"y2":{"datum":1.0}}},
     {"data":{"name":"uvo"},"mark":{"type":"point","filled":true,"size":22,"stroke":"#335533","strokeWidth":0.4},
      "encoding":{"x":{"field":"t","type":"quantitative","axis":{"orient":"top","title":null,"labels":false,"values":[52000,52100,52200,52300,52400,52500,52600,52700,52800,52900,53000,53100,53200,53300,53400,53500,53600,53700,53800,53900,54000,54100,54200,54300,54400,54500,54600,54700,54800,54900,55000,55100,55200,55300,55400,55500],"tickSize":{"condition":{"test":"datum.value % 500 === 0","value":-5},"value":-2.5}}},
       "y":{"field":"v","type":"quantitative","axis":{"orient":"left","title":"Φᵤᵥ/ₒ (mJy)","values":[0,0.2,0.4,0.6,0.8],"format":".1f","tickSize":-4,"labelFontSize":10.5,"labelPadding":9,"titleFontSize":8.5,"titlePadding":4}},
       "fill":{"field":"s","type":"nominal","scale":{"domain":["HST STIS/F25QTZ - core","HST ACS/F220W - core","HST ACS/F250W - core","HST STIS/F25QTZ - HST1","HST ACS/F220W - HST1","HST ACS/F250W - HST1"],"range":["#b8e6a8","#4fc04f","#1a7a1a","#8fd0c0","#3aa0a0","#1d6070"]},"legend":{"title":null,"orient":"top-left","offset":4,"padding":4,"strokeColor":"#333","fillColor":"white","labelFontSize":7.5,"symbolSize":22,"rowPadding":3.5,"labelOffset":8,"symbolStrokeColor":"#335533","symbolStrokeWidth":0.4}},
       "shape":{"field":"s","type":"nominal","scale":{"domain":["HST STIS/F25QTZ - core","HST ACS/F220W - core","HST ACS/F250W - core","HST STIS/F25QTZ - HST1","HST ACS/F220W - HST1","HST ACS/F250W - HST1"],"range":["square","square","square","triangle-up","triangle-up","triangle-up"]},"legend":{"title":null,"orient":"top-left","offset":4,"padding":4,"strokeColor":"#333","fillColor":"white","labelFontSize":7.5,"symbolSize":22,"rowPadding":3.5,"labelOffset":8,"symbolStrokeColor":"#335533","symbolStrokeWidth":0.4}}}},
     {"data":{"name":"lt"},"mark":{"type":"rule","color":"#3a9a9a","strokeWidth":1.5},"encoding":{"x":{"field":"t","type":"quantitative","axis":null},"y":{"field":"lo","type":"quantitative","axis":null},"y2":{"field":"hi"}}},
     {"data":{"name":"lt"},"mark":{"type":"rule","color":"#3a9a9a","strokeWidth":1},"encoding":{"x":{"field":"t0","type":"quantitative","axis":null},"x2":{"field":"t1"},"y":{"field":"v","type":"quantitative","axis":null}}},
     {"data":{"name":"lt"},"mark":{"type":"point","filled":true,"shape":"diamond","size":40,"stroke":"#0f4040","strokeWidth":0.5},
      "encoding":{"x":{"field":"t","type":"quantitative","axis":null},"y":{"field":"v","type":"quantitative","axis":null},
       "fill":{"field":"s","type":"nominal","scale":{"range":["#1f6b6b"]},"legend":{"title":null,"orient":"top-right","offset":5,"padding":4,"strokeColor":"#333","fillColor":"white","labelFontSize":7.5,"symbolType":"diamond","symbolSize":30,"labelOffset":8}}}}
    ],
    "resolve":{"scale":{"fill":"independent","shape":"independent"},"axis":{"x":"independent","y":"independent"}}
   },
   {"width":530,"height":91,
    "layer":[
     {"data":{"name":"bandsL"},"mark":{"type":"rect","color":"#e3e3e3"},
      "encoding":{"x":{"field":"a","type":"quantitative","scale":{"domain":[51910,55600],"nice":false},"axis":{"orient":"bottom","title":null,"labels":false,"values":[52000,52100,52200,52300,52400,52500,52600,52700,52800,52900,53000,53100,53200,53300,53400,53500,53600,53700,53800,53900,54000,54100,54200,54300,54400,54500,54600,54700,54800,54900,55000,55100,55200,55300,55400,55500],"tickSize":{"condition":{"test":"datum.value % 500 === 0","value":-5},"value":-2.5}}},"x2":{"field":"b"},
       "y":{"datum":0,"type":"quantitative","scale":{"domain":[0,2.48],"nice":false},"axis":{"orient":"right","title":null,"labels":false,"values":[0,0.5,1,1.5,2],"tickSize":-4}},"y2":{"datum":2.48}}},
     {"data":{"name":"v43l"},"mark":{"type":"point","filled":true,"size":26,"stroke":"#7a1020","strokeWidth":0.4},
      "encoding":{"x":{"field":"t","type":"quantitative","axis":{"orient":"top","title":null,"labels":false,"values":[52000,52100,52200,52300,52400,52500,52600,52700,52800,52900,53000,53100,53200,53300,53400,53500,53600,53700,53800,53900,54000,54100,54200,54300,54400,54500,54600,54700,54800,54900,55000,55100,55200,55300,55400,55500],"tickSize":{"condition":{"test":"datum.value % 500 === 0","value":-5},"value":-2.5}}},
       "y":{"field":"v","type":"quantitative","axis":{"orient":"left","title":"Φᵣₐdᵢₒ (Jy)","values":[0,0.5,1,1.5,2],"format":".1f","tickSize":-4,"labelFontSize":10.5,"labelPadding":9,"titleFontSize":8.5,"titlePadding":4}},
       "fill":{"field":"s","type":"nominal","scale":{"domain":["VLBA 43 GHz - 1.2mas","VLBA 43 GHz - peak","VLBA 43 GHz - jet"],"range":["#cc1133","#ee2222","#cc5555"]},"legend":{"title":null,"orient":"top-left","offset":4,"padding":4,"strokeColor":"#333","fillColor":"white","labelFontSize":7.5,"symbolSize":26,"rowPadding":3.5,"labelOffset":8,"symbolStrokeColor":"#7a1020","symbolStrokeWidth":0.4}},
       "shape":{"field":"s","type":"nominal","scale":{"domain":["VLBA 43 GHz - 1.2mas","VLBA 43 GHz - peak","VLBA 43 GHz - jet"],"range":["diamond","M0,-1L0.55,0L0,1L-0.55,0Z","square"]},"legend":{"title":null,"orient":"top-left","offset":4,"padding":4,"strokeColor":"#333","fillColor":"white","labelFontSize":7.5,"symbolSize":26,"rowPadding":3.5,"labelOffset":8,"symbolStrokeColor":"#7a1020","symbolStrokeWidth":0.4}}}}
    ],
    "resolve":{"axis":{"x":"independent","y":"independent"}}
   },
   {"width":530,"height":92,
    "layer":[
     {"data":{"name":"bandsL"},"mark":{"type":"rect","color":"#e3e3e3"},
      "encoding":{"x":{"field":"a","type":"quantitative","scale":{"domain":[51910,55600],"nice":false},"axis":{"orient":"bottom","title":null,"labels":false,"values":[52000,52100,52200,52300,52400,52500,52600,52700,52800,52900,53000,53100,53200,53300,53400,53500,53600,53700,53800,53900,54000,54100,54200,54300,54400,54500,54600,54700,54800,54900,55000,55100,55200,55300,55400,55500],"tickSize":{"condition":{"test":"datum.value % 500 === 0","value":-5},"value":-2.5}}},"x2":{"field":"b"},
       "y":{"datum":0.59,"type":"quantitative","scale":{"domain":[0.59,3.85],"nice":false},"axis":{"orient":"right","title":null,"labels":false,"values":[1,1.5,2,2.5,3,3.5],"tickSize":-4}},"y2":{"datum":3.85}}},
     {"data":{"name":"rc"},"transform":[{"filter":"isValid(datum.lo)"}],"mark":{"type":"rule","color":"#f0b070","strokeWidth":1},"encoding":{"x":{"field":"t","type":"quantitative","axis":null},"y":{"field":"lo","type":"quantitative","axis":null},"y2":{"field":"hi"}}},
     {"data":{"name":"rc"},"mark":{"type":"point","filled":true,"size":32,"stroke":"#8a5a10","strokeWidth":0.5},
      "encoding":{"x":{"field":"t","type":"quantitative","axis":{"orient":"top","title":null,"labels":false,"values":[52000,52100,52200,52300,52400,52500,52600,52700,52800,52900,53000,53100,53200,53300,53400,53500,53600,53700,53800,53900,54000,54100,54200,54300,54400,54500,54600,54700,54800,54900,55000,55100,55200,55300,55400,55500],"tickSize":{"condition":{"test":"datum.value % 500 === 0","value":-5},"value":-2.5}}},
       "y":{"field":"v","type":"quantitative","axis":{"orient":"left","title":"Φᵣₐdᵢₒ (Jy)","values":[1,1.5,2,2.5,3,3.5],"format":".1f","tickSize":-4,"labelFontSize":10.5,"labelPadding":9,"titleFontSize":8.5,"titlePadding":4}},
       "fill":{"field":"s","type":"nominal","scale":{"domain":["VLA 22GHz - core","VLA 15GHz - core","MOJAVE 15GHz - peak","EVN 5GHz - core","VLBA 2.3GHz - core","VLBA 1.7GHz - core"],"range":["#f5a623","#e8801a","#f5d800","#d8e000","#e8d0d0","#ecd4c4"]},"legend":{"title":null,"orient":"top-left","offset":4,"padding":4,"strokeColor":"#333","fillColor":"white","labelFontSize":7.5,"symbolSize":26,"rowPadding":3.5,"labelOffset":8,"symbolStrokeColor":"#8a5a10","symbolStrokeWidth":0.5}},
       "shape":{"field":"s","type":"nominal","scale":{"domain":["VLA 22GHz - core","VLA 15GHz - core","MOJAVE 15GHz - peak","EVN 5GHz - core","VLBA 2.3GHz - core","VLBA 1.7GHz - core"],"range":["square","circle","diamond","triangle-down","triangle-right","M0,-1L0.55,0L0,1L-0.55,0Z"]},"legend":{"title":null,"orient":"top-left","offset":4,"padding":4,"strokeColor":"#333","fillColor":"white","labelFontSize":7.5,"symbolSize":26,"rowPadding":3.5,"labelOffset":8,"symbolStrokeColor":"#8a5a10","symbolStrokeWidth":0.5}}}}
    ],
    "resolve":{"axis":{"x":"independent","y":"independent"}}
   },
   {"width":530,"height":89,
    "layer":[
     {"data":{"name":"bandsL"},"mark":{"type":"rect","color":"#e3e3e3"},
      "encoding":{"x":{"field":"a","type":"quantitative","scale":{"domain":[51910,55600],"nice":false},"axis":{"orient":"bottom","title":"MJD","titleFontSize":11,"titlePadding":0,"values":[52000,52100,52200,52300,52400,52500,52600,52700,52800,52900,53000,53100,53200,53300,53400,53500,53600,53700,53800,53900,54000,54100,54200,54300,54400,54500,54600,54700,54800,54900,55000,55100,55200,55300,55400,55500],"labelExpr":"datum.value % 500 === 0 ? format(datum.value,'d') : ''","labelFontSize":10.5,"labelPadding":7,"tickSize":{"condition":{"test":"datum.value % 500 === 0","value":-5},"value":-2.5}}},"x2":{"field":"b"},
       "y":{"datum":0,"type":"quantitative","scale":{"domain":[0,0.4],"nice":false},"axis":{"orient":"right","title":null,"labels":false,"values":[0,0.05,0.1,0.15,0.2,0.25,0.3,0.35,0.4],"tickSize":-4}},"y2":{"datum":0.4}}},
     {"data":{"name":"rh"},"transform":[{"filter":"isValid(datum.lo)"}],"mark":{"type":"rule","color":"#e0a070","strokeWidth":1},"encoding":{"x":{"field":"t","type":"quantitative","axis":null},"y":{"field":"lo","type":"quantitative","axis":null},"y2":{"field":"hi"}}},
     {"data":{"name":"rh"},"mark":{"type":"point","filled":true,"size":30,"stroke":"#5a2a10","strokeWidth":0.5},
      "encoding":{"x":{"field":"t","type":"quantitative","axis":{"orient":"top","title":null,"labels":false,"values":[52000,52100,52200,52300,52400,52500,52600,52700,52800,52900,53000,53100,53200,53300,53400,53500,53600,53700,53800,53900,54000,54100,54200,54300,54400,54500,54600,54700,54800,54900,55000,55100,55200,55300,55400,55500],"tickSize":{"condition":{"test":"datum.value % 500 === 0","value":-5},"value":-2.5}}},
       "y":{"field":"v","type":"quantitative","axis":{"orient":"left","title":"Φᵣₐdᵢₒ (Jy)","values":[0,0.05,0.1,0.15,0.2,0.25,0.3,0.35,0.4],"format":".2f","tickSize":-4,"labelFontSize":10.5,"labelPadding":9,"titleFontSize":8.5,"titlePadding":4}},
       "fill":{"field":"s","type":"nominal","scale":{"domain":["VLA 22GHz - HST1 x 4.6","VLA 15GHz - HST1 x 3.7","EVN 5GHz - HST1 x 1.9","VLBA 2.3GHz - HST1 x 1.2","VLBA 1.7GHz - HST1 x 1.0"],"range":["#a52a2a","#cd853f","#8b4513","#8b0000","#d2691e"]},"legend":{"title":null,"orient":"top-left","offset":3,"padding":4,"strokeColor":"#333","fillColor":"white","labelFontSize":7.5,"symbolSize":26,"rowPadding":3.5,"labelOffset":8,"symbolStrokeColor":"#5a2a10","symbolStrokeWidth":0.5}},
       "shape":{"field":"s","type":"nominal","scale":{"domain":["VLA 22GHz - HST1 x 4.6","VLA 15GHz - HST1 x 3.7","EVN 5GHz - HST1 x 1.9","VLBA 2.3GHz - HST1 x 1.2","VLBA 1.7GHz - HST1 x 1.0"],"range":["triangle-up","square","M0,-1L0.87,-0.5L0.87,0.5L0,1L-0.87,0.5L-0.87,-0.5Z","triangle-right","M0,-1L0.55,0L0,1L-0.55,0Z"]},"legend":{"title":null,"orient":"top-left","offset":3,"padding":4,"strokeColor":"#333","fillColor":"white","labelFontSize":7.5,"symbolSize":26,"rowPadding":3.5,"labelOffset":8,"symbolStrokeColor":"#5a2a10","symbolStrokeWidth":0.5}}}}
    ],
    "resolve":{"axis":{"x":"independent","y":"independent"}}
   }
  ],
  "spacing":0,
  "bounds":"flush",
  "resolve":{"scale":{"x":"independent","y":"independent","fill":"independent","shape":"independent","stroke":"independent"}}
 },
 {
  "vconcat":[
   {"width":458,"height":9,"view":{"stroke":null},"data":{"values":[{}]},"mark":{"type":"text","text":""}},
   {"width":458,"height":142.4,"view":{"stroke":"black","strokeWidth":2},
    "title":{"text":"1e-12","anchor":"start","frame":"group","fontSize":15,"font":"Liberation Mono","color":"#555555","fontWeight":"normal","offset":4},
    "layer":[
     {"data":{"name":"bandsR"},"mark":{"type":"rect","color":"#e3e3e3"},
      "encoding":{"x":{"field":"a","type":"quantitative","scale":{"domain":[55500,56237],"nice":false},"axis":{"orient":"top","title":null,"labels":false,"values":[55500,55520,55540,55560,55580,55600,55620,55640,55660,55680,55700,55720,55740,55760,55780,55800,55820,55840,55860,55880,55900,55920,55940,55960,55980,56000,56020,56040,56060,56080,56100,56120,56140,56160,56180,56200,56220],"tickWidth":1.3,"tickSize":{"condition":{"test":"datum.value % 100 === 0","value":-14},"value":-7}}},"x2":{"field":"b"},
       "y":{"datum":-0.45,"type":"quantitative","scale":{"domain":[-0.45,6],"nice":false},"axis":{"orient":"right","title":null,"labels":false,"values":[-0.4,-0.2,0,0.2,0.4,0.6,0.8,1,1.2,1.4,1.6,1.8,2,2.2,2.4,2.6,2.8,3,3.2,3.4,3.6,3.8,4,4.2,4.4,4.6,4.8,5,5.2,5.4,5.6,5.8,6],"tickWidth":1.3,"tickSize":{"condition":{"test":"indexof([0,1,2,3,4,5,6], datum.value) >= 0","value":-13},"value":-7}}},"y2":{"datum":6}}},
     {"data":{"name":"ver"},"mark":{"type":"rule","strokeWidth":2,"clip":true},
      "encoding":{"x":{"field":"t","type":"quantitative","axis":null},"y":{"field":"lo","type":"quantitative","axis":null},"y2":{"field":"hi"},
       "stroke":{"field":"s","type":"nominal","scale":{"domain":["VERITAS nightly","VEIRTAS monthly"],"range":["#0000ff","#ff0000"]},"legend":{"title":null,"orient":"none","legendX":22.5,"legendY":12.5,"padding":0,"labelFont":"Liberation Mono","labelFontSize":15,"labelColor":"#555555","labelLimit":400,"symbolType":"M0,-1V1M-0.55,0H0.55M0.2,0A0.2,0.2 0 1 1 -0.2,0A0.2,0.2 0 1 1 0.2,0Z","symbolSize":200,"symbolStrokeWidth":2.5,"symbolFillColor":"#000040","rowPadding":6.7,"labelOffset":21}}}},
     {"data":{"name":"ver"},"mark":{"type":"point","filled":true,"shape":"circle","size":60,"stroke":"black","strokeWidth":1},
      "encoding":{"x":{"field":"t","type":"quantitative","axis":{"orient":"bottom","title":null,"labels":false,"values":[55500,55520,55540,55560,55580,55600,55620,55640,55660,55680,55700,55720,55740,55760,55780,55800,55820,55840,55860,55880,55900,55920,55940,55960,55980,56000,56020,56040,56060,56080,56100,56120,56140,56160,56180,56200,56220],"tickWidth":1.3,"tickSize":{"condition":{"test":"datum.value % 100 === 0","value":-14},"value":-7}}},
       "y":{"field":"v","type":"quantitative","axis":{"orient":"left","title":"(ph cm⁻² s)","values":[-0.4,-0.2,0,0.2,0.4,0.6,0.8,1,1.2,1.4,1.6,1.8,2,2.2,2.4,2.6,2.8,3,3.2,3.4,3.6,3.8,4,4.2,4.4,4.6,4.8,5,5.2,5.4,5.6,5.8,6],"labelExpr":"indexof([0,1,2,3,4,5,6], datum.value) >= 0 ? format(datum.value,'d') : ''","tickWidth":1.3,"tickSize":{"condition":{"test":"indexof([0,1,2,3,4,5,6], datum.value) >= 0","value":-13},"value":-7},"labelFont":"Liberation Mono","labelFontSize":15,"labelColor":"#555555","labelPadding":18,"titleFont":"Liberation Mono","titleFontSize":15,"titleColor":"#555555","titlePadding":8}},
       "fill":{"field":"s","type":"nominal","scale":{"domain":["VERITAS nightly","VEIRTAS monthly"],"range":["#0000ff","#ff0000"]},"legend":null}}}
    ],
    "resolve":{"axis":{"x":"independent","y":"independent"}}
   },
   {"width":458,"height":77.6,"view":{"stroke":"black","strokeWidth":2},
    "layer":[
     {"data":{"name":"bandsR"},"mark":{"type":"rect","color":"#e3e3e3"},
      "encoding":{"x":{"field":"a","type":"quantitative","scale":{"domain":[55500,56237],"nice":false},"axis":{"orient":"top","title":null,"labels":false,"values":[55500,55520,55540,55560,55580,55600,55620,55640,55660,55680,55700,55720,55740,55760,55780,55800,55820,55840,55860,55880,55900,55920,55940,55960,55980,56000,56020,56040,56060,56080,56100,56120,56140,56160,56180,56200,56220],"tickWidth":1.3,"tickSize":{"condition":{"test":"datum.value % 100 === 0","value":-14},"value":-7}}},"x2":{"field":"b"},
       "y":{"datum":1.0,"type":"quantitative","scale":{"domain":[1.0,2.52],"nice":false},"axis":{"orient":"right","title":null,"labels":false,"values":[1,1.1,1.2,1.3,1.4,1.5,1.6,1.7,1.8,1.9,2,2.1,2.2,2.3,2.4,2.5],"tickWidth":1.3,"tickSize":{"condition":{"test":"indexof([1.2,1.6,2,2.4], datum.value) >= 0","value":-13},"value":-7}}},"y2":{"datum":2.52}}},
     {"data":{"name":"sma"},"mark":{"type":"rule","strokeWidth":2,"clip":true},
      "encoding":{"x":{"field":"t","type":"quantitative","axis":null},"y":{"field":"lo","type":"quantitative","axis":null},"y2":{"field":"hi"},
       "stroke":{"field":"s","type":"nominal","scale":{"range":["#0000ff"]},"legend":{"title":null,"orient":"none","legendX":22.5,"legendY":12.5,"padding":0,"labelFont":"Liberation Mono","labelFontSize":15,"labelColor":"#555555","labelLimit":400,"symbolType":"M0,-1V1M0.2,0A0.2,0.2 0 1 1 -0.2,0A0.2,0.2 0 1 1 0.2,0Z","symbolSize":200,"symbolStrokeWidth":2.5,"symbolFillColor":"#000040","labelOffset":21}}}},
     {"data":{"name":"sma"},"mark":{"type":"point","filled":true,"shape":"circle","size":60,"stroke":"black","strokeWidth":1,"color":"#0000ff"},
      "encoding":{"x":{"field":"t","type":"quantitative","axis":{"orient":"bottom","title":null,"labels":false,"values":[55500,55520,55540,55560,55580,55600,55620,55640,55660,55680,55700,55720,55740,55760,55780,55800,55820,55840,55860,55880,55900,55920,55940,55960,55980,56000,56020,56040,56060,56080,56100,56120,56140,56160,56180,56200,56220],"tickWidth":1.3,"tickSize":{"condition":{"test":"datum.value % 100 === 0","value":-14},"value":-7}}},
       "y":{"field":"v","type":"quantitative","axis":{"orient":"left","title":"(Jy)","values":[1,1.1,1.2,1.3,1.4,1.5,1.6,1.7,1.8,1.9,2,2.1,2.2,2.3,2.4,2.5],"labelExpr":"indexof([1.2,1.6,2,2.4], datum.value) >= 0 ? format(datum.value,'.1f') : ''","tickWidth":1.3,"tickSize":{"condition":{"test":"indexof([1.2,1.6,2,2.4], datum.value) >= 0","value":-13},"value":-7},"labelFont":"Liberation Mono","labelFontSize":15,"labelColor":"#555555","labelPadding":18,"titleFont":"Liberation Mono","titleFontSize":15,"titleColor":"#555555","titlePadding":8}}}}
    ],
    "resolve":{"axis":{"x":"independent","y":"independent"}}
   },
   {"width":458,"height":76,"view":{"stroke":"black","strokeWidth":2},
    "layer":[
     {"data":{"name":"bandsR"},"mark":{"type":"rect","color":"#e3e3e3"},
      "encoding":{"x":{"field":"a","type":"quantitative","scale":{"domain":[55500,56237],"nice":false},"axis":{"orient":"top","title":null,"labels":false,"values":[55500,55520,55540,55560,55580,55600,55620,55640,55660,55680,55700,55720,55740,55760,55780,55800,55820,55840,55860,55880,55900,55920,55940,55960,55980,56000,56020,56040,56060,56080,56100,56120,56140,56160,56180,56200,56220],"tickWidth":1.3,"tickSize":{"condition":{"test":"datum.value % 100 === 0","value":-14},"value":-7}}},"x2":{"field":"b"},
       "y":{"datum":0,"type":"quantitative","scale":{"domain":[0,12],"nice":false},"axis":{"orient":"right","title":null,"labels":false,"values":[0.5,1,1.5,2,2.5,3,3.5,4,4.5,5,5.5,6,6.5,7,7.5,8,8.5,9,9.5,10,10.5,11,11.5],"tickWidth":1.3,"tickSize":{"condition":{"test":"indexof([2,4,6,8,10], datum.value) >= 0","value":-13},"value":-7}}},"y2":{"datum":12}}},
     {"data":{"name":"evn"},"mark":{"type":"rule","strokeWidth":2,"clip":true},
      "encoding":{"x":{"field":"t","type":"quantitative","axis":null},"y":{"field":"lo","type":"quantitative","axis":null},"y2":{"field":"hi"},
       "stroke":{"field":"s","type":"nominal","scale":{"range":["#0000ff"]},"legend":{"title":null,"orient":"none","legendX":22.5,"legendY":11.5,"padding":0,"labelFont":"Liberation Mono","labelFontSize":15,"labelColor":"#555555","labelLimit":400,"symbolType":"M0,-1V1M0.2,0A0.2,0.2 0 1 1 -0.2,0A0.2,0.2 0 1 1 0.2,0Z","symbolSize":200,"symbolStrokeWidth":2.5,"symbolFillColor":"#000040","labelOffset":21}}}},
     {"data":{"name":"evn"},"mark":{"type":"point","filled":true,"shape":"circle","size":60,"stroke":"black","strokeWidth":1,"color":"#0000ff"},
      "encoding":{"x":{"field":"t","type":"quantitative","axis":{"orient":"bottom","title":null,"labels":false,"values":[55500,55520,55540,55560,55580,55600,55620,55640,55660,55680,55700,55720,55740,55760,55780,55800,55820,55840,55860,55880,55900,55920,55940,55960,55980,56000,56020,56040,56060,56080,56100,56120,56140,56160,56180,56200,56220],"tickWidth":1.3,"tickSize":{"condition":{"test":"datum.value % 100 === 0","value":-14},"value":-7}}},
       "y":{"field":"v","type":"quantitative","axis":{"orient":"left","title":"(mJy)","values":[0.5,1,1.5,2,2.5,3,3.5,4,4.5,5,5.5,6,6.5,7,7.5,8,8.5,9,9.5,10,10.5,11,11.5],"labelExpr":"indexof([2,4,6,8,10], datum.value) >= 0 ? format(datum.value,'d') : ''","tickWidth":1.3,"tickSize":{"condition":{"test":"indexof([2,4,6,8,10], datum.value) >= 0","value":-13},"value":-7},"labelFont":"Liberation Mono","labelFontSize":13,"labelColor":"#555555","labelPadding":18,"titleFont":"Liberation Mono","titleFontSize":15,"titleColor":"#555555","titlePadding":8}}}}
    ],
    "resolve":{"axis":{"x":"independent","y":"independent"}}
   },
   {"width":458,"height":187.4,"view":{"stroke":"black","strokeWidth":2},
    "layer":[
     {"data":{"name":"bandsR"},"mark":{"type":"rect","color":"#e3e3e3"},
      "encoding":{"x":{"field":"a","type":"quantitative","scale":{"domain":[55500,56237],"nice":false},"axis":{"orient":"top","title":null,"labels":false,"values":[55500,55520,55540,55560,55580,55600,55620,55640,55660,55680,55700,55720,55740,55760,55780,55800,55820,55840,55860,55880,55900,55920,55940,55960,55980,56000,56020,56040,56060,56080,56100,56120,56140,56160,56180,56200,56220],"tickWidth":1.3,"tickSize":{"condition":{"test":"datum.value % 100 === 0","value":-14},"value":-7}}},"x2":{"field":"b"},
       "y":{"datum":400,"type":"quantitative","scale":{"domain":[400,1200],"nice":false},"axis":{"orient":"right","title":null,"labels":false,"values":[420,440,460,480,500,520,540,560,580,600,620,640,660,680,700,720,740,760,780,800,820,840,860,880,900,920,940,960,980,1000,1020,1040,1060,1080,1100,1120,1140,1160,1180],"tickWidth":1.3,"tickSize":{"condition":{"test":"datum.value % 100 === 0","value":-13},"value":-7}}},"y2":{"datum":1200}}},
     {"data":{"name":"v43"},"mark":{"type":"rule","strokeWidth":2,"clip":true},
      "encoding":{"x":{"field":"t","type":"quantitative","axis":null},"y":{"field":"lo","type":"quantitative","axis":null},"y2":{"field":"hi"},
       "stroke":{"field":"s","type":"nominal","scale":{"domain":["VERA 43GHz core total","VERA 43GHz core peak"],"range":["#0000ff","#008000"]},"legend":{"title":null,"orient":"none","legendX":22.5,"legendY":12.5,"padding":0,"labelFont":"Liberation Mono","labelFontSize":15,"labelColor":"#555555","labelLimit":400,"symbolType":"M0,-1V1M0.2,0A0.2,0.2 0 1 1 -0.2,0A0.2,0.2 0 1 1 0.2,0Z","symbolSize":200,"symbolStrokeWidth":2.5,"symbolFillColor":"#000040","rowPadding":6.7,"labelOffset":21}}}},
     {"data":{"name":"v43"},"mark":{"type":"point","filled":true,"shape":"circle","size":60,"stroke":"black","strokeWidth":1},
      "encoding":{"x":{"field":"t","type":"quantitative","axis":{"orient":"bottom","title":null,"labels":false,"values":[55500,55520,55540,55560,55580,55600,55620,55640,55660,55680,55700,55720,55740,55760,55780,55800,55820,55840,55860,55880,55900,55920,55940,55960,55980,56000,56020,56040,56060,56080,56100,56120,56140,56160,56180,56200,56220],"tickWidth":1.3,"tickSize":{"condition":{"test":"datum.value % 100 === 0","value":-14},"value":-7}}},
       "y":{"field":"v","type":"quantitative","axis":{"orient":"left","title":"(mJy)","values":[420,440,460,480,500,520,540,560,580,600,620,640,660,680,700,720,740,760,780,800,820,840,860,880,900,920,940,960,980,1000,1020,1040,1060,1080,1100,1120,1140,1160,1180],"labelExpr":"(datum.value % 100 === 0 && datum.value >= 500 && datum.value <= 1100) ? format(datum.value,'d') : ''","tickWidth":1.3,"tickSize":{"condition":{"test":"datum.value % 100 === 0","value":-13},"value":-7},"labelFont":"Liberation Mono","labelFontSize":15,"labelColor":"#555555","labelPadding":18,"titleFont":"Liberation Mono","titleFontSize":15,"titleColor":"#555555","titlePadding":8}},
       "fill":{"field":"s","type":"nominal","scale":{"domain":["VERA 43GHz core total","VERA 43GHz core peak"],"range":["#0000ff","#008000"]},"legend":null}}}
    ],
    "resolve":{"axis":{"x":"independent","y":"independent"}}
   },
   {"width":458,"height":186.6,"view":{"stroke":"black","strokeWidth":2},
    "layer":[
     {"data":{"name":"bandsR"},"mark":{"type":"rect","color":"#e3e3e3"},
      "encoding":{"x":{"field":"a","type":"quantitative","scale":{"domain":[55500,56237],"nice":false},"axis":{"orient":"top","title":null,"labels":false,"values":[55500,55520,55540,55560,55580,55600,55620,55640,55660,55680,55700,55720,55740,55760,55780,55800,55820,55840,55860,55880,55900,55920,55940,55960,55980,56000,56020,56040,56060,56080,56100,56120,56140,56160,56180,56200,56220],"tickWidth":1.3,"tickSize":{"condition":{"test":"datum.value % 100 === 0","value":-14},"value":-7}}},"x2":{"field":"b"},
       "y":{"datum":750,"type":"quantitative","scale":{"domain":[750,1650],"nice":false},"axis":{"orient":"right","title":null,"labels":false,"values":[800,850,900,950,1000,1050,1100,1150,1200,1250,1300,1350,1400,1450,1500,1550,1600],"tickWidth":1.3,"tickSize":{"condition":{"test":"datum.value % 200 === 0","value":-13},"value":-7}}},"y2":{"datum":1650}}},
     {"data":{"name":"v22"},"mark":{"type":"rule","strokeWidth":2,"clip":true},
      "encoding":{"x":{"field":"t","type":"quantitative","axis":null},"y":{"field":"lo","type":"quantitative","axis":null},"y2":{"field":"hi"},
       "stroke":{"field":"s","type":"nominal","scale":{"domain":["VERA 22GHz core total","VERA 22GHz core peak"],"range":["#0000ff","#008000"]},"legend":{"title":null,"orient":"none","legendX":22.5,"legendY":12.5,"padding":0,"labelFont":"Liberation Mono","labelFontSize":15,"labelColor":"#555555","labelLimit":400,"symbolType":"M0,-1V1M0.2,0A0.2,0.2 0 1 1 -0.2,0A0.2,0.2 0 1 1 0.2,0Z","symbolSize":200,"symbolStrokeWidth":2.5,"symbolFillColor":"#000040","rowPadding":6.7,"labelOffset":21}}}},
     {"data":{"name":"v22"},"mark":{"type":"point","filled":true,"shape":"circle","size":60,"stroke":"black","strokeWidth":1},
      "encoding":{"x":{"field":"t","type":"quantitative","axis":{"orient":"bottom","title":"Time (MJD)","titleFont":"Liberation Mono","titleFontSize":18,"titleColor":"#444444","titlePadding":3,"values":[55500,55520,55540,55560,55580,55600,55620,55640,55660,55680,55700,55720,55740,55760,55780,55800,55820,55840,55860,55880,55900,55920,55940,55960,55980,56000,56020,56040,56060,56080,56100,56120,56140,56160,56180,56200,56220],"labelExpr":"datum.value % 100 === 0 ? format(datum.value,'d') : ''","labelAngle":-20,"labelAlign":"center","labelBaseline":"middle","labelFont":"Liberation Mono","labelFontSize":15,"labelColor":"#555555","labelPadding":34,"tickWidth":1.3,"tickSize":{"condition":{"test":"datum.value % 100 === 0","value":-14},"value":-7}}},
       "y":{"field":"v","type":"quantitative","axis":{"orient":"left","title":"(mJy)","values":[800,850,900,950,1000,1050,1100,1150,1200,1250,1300,1350,1400,1450,1500,1550,1600],"labelExpr":"(datum.value % 200 === 0) ? format(datum.value,'d') : ''","tickWidth":1.3,"tickSize":{"condition":{"test":"datum.value % 200 === 0","value":-13},"value":-7},"labelFont":"Liberation Mono","labelFontSize":15,"labelColor":"#555555","labelPadding":18,"titleFont":"Liberation Mono","titleFontSize":15,"titleColor":"#555555","titlePadding":8}},
       "fill":{"field":"s","type":"nominal","scale":{"domain":["VERA 22GHz core total","VERA 22GHz core peak"],"range":["#0000ff","#008000"]},"legend":null}}}
    ],
    "resolve":{"axis":{"x":"independent","y":"independent"}}
   }
  ],
  "spacing":0,
  "bounds":"flush",
  "resolve":{"scale":{"x":"independent","y":"independent","fill":"independent","stroke":"independent"}}
 }
]
}
